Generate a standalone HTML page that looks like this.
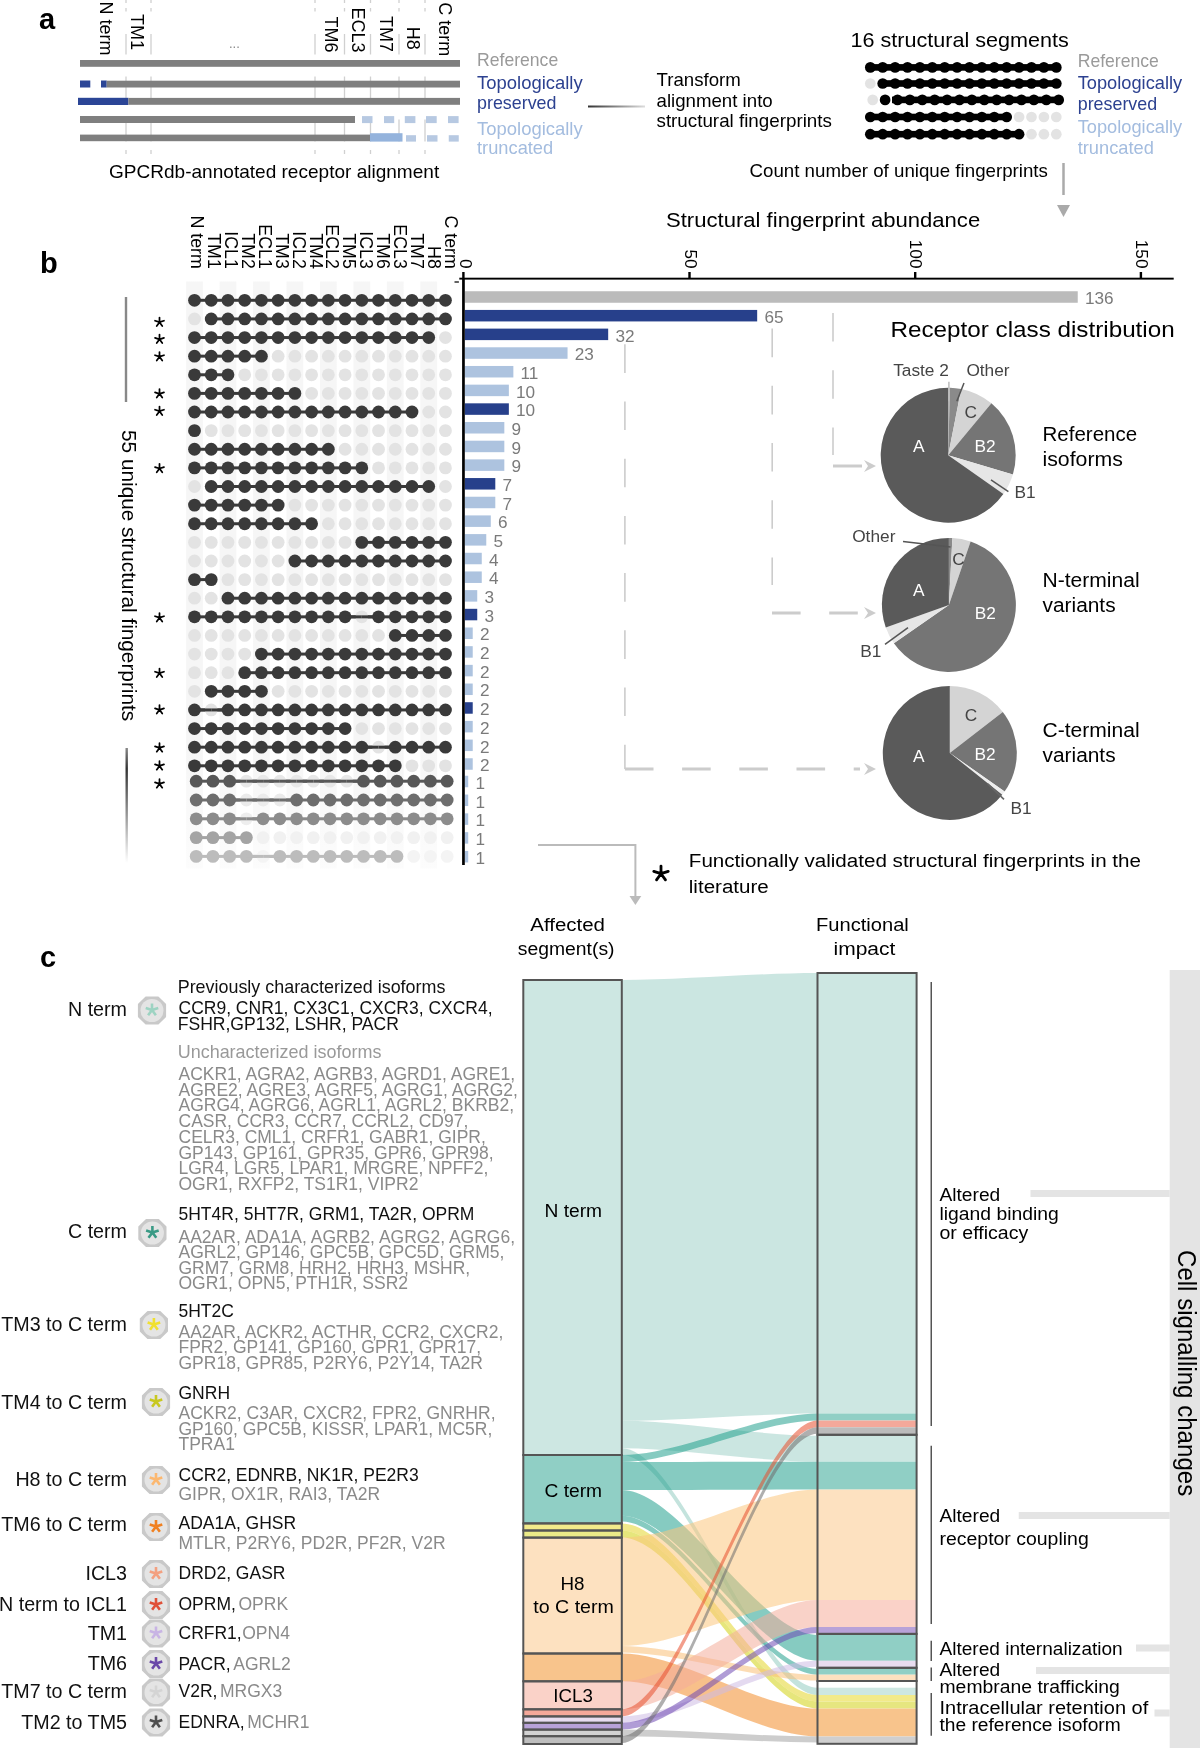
<!DOCTYPE html>
<html><head><meta charset="utf-8"><style>
html,body{margin:0;padding:0;background:#fff;}
body{width:1200px;height:1748px;overflow:hidden;}
svg{display:block;font-family:"Liberation Sans",sans-serif;will-change:transform;}
</style></head><body>
<svg width="1200" height="1748" viewBox="0 0 1200 1748">
<text x="39.00" y="29.00" font-size="29" fill="#000" font-weight="bold">a</text>
<line x1="126.00" y1="0.00" x2="126.00" y2="3.00" stroke="#d0d0d0" stroke-width="1.3"/>
<line x1="126.00" y1="8.00" x2="126.00" y2="11.50" stroke="#d0d0d0" stroke-width="1.3"/>
<line x1="126.00" y1="34.00" x2="126.00" y2="54.50" stroke="#d0d0d0" stroke-width="1.3"/>
<line x1="126.00" y1="76.50" x2="126.00" y2="98.00" stroke="#d0d0d0" stroke-width="1.3"/>
<line x1="126.00" y1="119.50" x2="126.00" y2="141.50" stroke="#d0d0d0" stroke-width="1.3"/>
<line x1="126.00" y1="150.00" x2="126.00" y2="154.00" stroke="#d0d0d0" stroke-width="1.3"/>
<line x1="151.00" y1="0.00" x2="151.00" y2="3.00" stroke="#d0d0d0" stroke-width="1.3"/>
<line x1="151.00" y1="8.00" x2="151.00" y2="11.50" stroke="#d0d0d0" stroke-width="1.3"/>
<line x1="151.00" y1="34.00" x2="151.00" y2="54.50" stroke="#d0d0d0" stroke-width="1.3"/>
<line x1="151.00" y1="76.50" x2="151.00" y2="98.00" stroke="#d0d0d0" stroke-width="1.3"/>
<line x1="151.00" y1="119.50" x2="151.00" y2="141.50" stroke="#d0d0d0" stroke-width="1.3"/>
<line x1="151.00" y1="150.00" x2="151.00" y2="154.00" stroke="#d0d0d0" stroke-width="1.3"/>
<line x1="315.00" y1="0.00" x2="315.00" y2="3.00" stroke="#d0d0d0" stroke-width="1.3"/>
<line x1="315.00" y1="8.00" x2="315.00" y2="11.50" stroke="#d0d0d0" stroke-width="1.3"/>
<line x1="315.00" y1="34.00" x2="315.00" y2="54.50" stroke="#d0d0d0" stroke-width="1.3"/>
<line x1="315.00" y1="76.50" x2="315.00" y2="98.00" stroke="#d0d0d0" stroke-width="1.3"/>
<line x1="315.00" y1="119.50" x2="315.00" y2="141.50" stroke="#d0d0d0" stroke-width="1.3"/>
<line x1="315.00" y1="150.00" x2="315.00" y2="154.00" stroke="#d0d0d0" stroke-width="1.3"/>
<line x1="344.50" y1="0.00" x2="344.50" y2="3.00" stroke="#d0d0d0" stroke-width="1.3"/>
<line x1="344.50" y1="8.00" x2="344.50" y2="11.50" stroke="#d0d0d0" stroke-width="1.3"/>
<line x1="344.50" y1="34.00" x2="344.50" y2="54.50" stroke="#d0d0d0" stroke-width="1.3"/>
<line x1="344.50" y1="76.50" x2="344.50" y2="98.00" stroke="#d0d0d0" stroke-width="1.3"/>
<line x1="344.50" y1="119.50" x2="344.50" y2="141.50" stroke="#d0d0d0" stroke-width="1.3"/>
<line x1="344.50" y1="150.00" x2="344.50" y2="154.00" stroke="#d0d0d0" stroke-width="1.3"/>
<line x1="370.50" y1="0.00" x2="370.50" y2="3.00" stroke="#d0d0d0" stroke-width="1.3"/>
<line x1="370.50" y1="8.00" x2="370.50" y2="11.50" stroke="#d0d0d0" stroke-width="1.3"/>
<line x1="370.50" y1="34.00" x2="370.50" y2="54.50" stroke="#d0d0d0" stroke-width="1.3"/>
<line x1="370.50" y1="76.50" x2="370.50" y2="98.00" stroke="#d0d0d0" stroke-width="1.3"/>
<line x1="370.50" y1="119.50" x2="370.50" y2="141.50" stroke="#d0d0d0" stroke-width="1.3"/>
<line x1="370.50" y1="150.00" x2="370.50" y2="154.00" stroke="#d0d0d0" stroke-width="1.3"/>
<line x1="399.00" y1="0.00" x2="399.00" y2="3.00" stroke="#d0d0d0" stroke-width="1.3"/>
<line x1="399.00" y1="8.00" x2="399.00" y2="11.50" stroke="#d0d0d0" stroke-width="1.3"/>
<line x1="399.00" y1="34.00" x2="399.00" y2="54.50" stroke="#d0d0d0" stroke-width="1.3"/>
<line x1="399.00" y1="76.50" x2="399.00" y2="98.00" stroke="#d0d0d0" stroke-width="1.3"/>
<line x1="399.00" y1="119.50" x2="399.00" y2="141.50" stroke="#d0d0d0" stroke-width="1.3"/>
<line x1="399.00" y1="150.00" x2="399.00" y2="154.00" stroke="#d0d0d0" stroke-width="1.3"/>
<line x1="425.00" y1="0.00" x2="425.00" y2="3.00" stroke="#d0d0d0" stroke-width="1.3"/>
<line x1="425.00" y1="8.00" x2="425.00" y2="11.50" stroke="#d0d0d0" stroke-width="1.3"/>
<line x1="425.00" y1="34.00" x2="425.00" y2="54.50" stroke="#d0d0d0" stroke-width="1.3"/>
<line x1="425.00" y1="76.50" x2="425.00" y2="98.00" stroke="#d0d0d0" stroke-width="1.3"/>
<line x1="425.00" y1="119.50" x2="425.00" y2="141.50" stroke="#d0d0d0" stroke-width="1.3"/>
<line x1="425.00" y1="150.00" x2="425.00" y2="154.00" stroke="#d0d0d0" stroke-width="1.3"/>
<text transform="translate(100.00,55.50) rotate(90)" font-size="18" fill="#000" text-anchor="end">N term</text>
<text transform="translate(131.30,50.00) rotate(90)" font-size="18" fill="#000" text-anchor="end">TM1</text>
<text transform="translate(324.80,52.60) rotate(90)" font-size="18" fill="#000" text-anchor="end">TM6</text>
<text transform="translate(352.30,52.60) rotate(90)" font-size="18" fill="#000" text-anchor="end">ECL3</text>
<text transform="translate(379.50,52.00) rotate(90)" font-size="18" fill="#000" text-anchor="end">TM7</text>
<text transform="translate(407.30,49.80) rotate(90)" font-size="18" fill="#000" text-anchor="end">H8</text>
<text transform="translate(439.00,56.20) rotate(90)" font-size="18" fill="#000" text-anchor="end">C term</text>
<text x="229.00" y="48.00" font-size="13" fill="#888">...</text>
<rect x="80.00" y="60.00" width="380.00" height="6.80" fill="#7f7f7f"/>
<rect x="80.00" y="80.50" width="10.30" height="7.00" fill="#2b4596"/>
<rect x="101.00" y="80.50" width="5.70" height="7.00" fill="#2b4596"/>
<rect x="106.70" y="80.70" width="353.30" height="6.80" fill="#7f7f7f"/>
<rect x="78.00" y="97.80" width="50.40" height="7.20" fill="#2b4596"/>
<rect x="128.40" y="97.90" width="331.60" height="6.90" fill="#7f7f7f"/>
<rect x="80.00" y="116.00" width="275.00" height="7.00" fill="#7f7f7f"/>
<rect x="362.00" y="116.10" width="10.50" height="7.00" fill="#b7c9e2"/>
<rect x="384.00" y="116.10" width="10.20" height="7.00" fill="#b7c9e2"/>
<rect x="404.80" y="116.10" width="10.60" height="7.00" fill="#b7c9e2"/>
<rect x="426.00" y="116.10" width="10.70" height="7.00" fill="#b7c9e2"/>
<rect x="448.00" y="116.10" width="10.60" height="7.00" fill="#b7c9e2"/>
<rect x="80.00" y="134.60" width="290.00" height="6.60" fill="#7f7f7f"/>
<rect x="370.00" y="133.20" width="32.50" height="8.40" fill="#94b3dc"/>
<rect x="406.00" y="135.20" width="10.00" height="6.40" fill="#b7c9e2"/>
<rect x="427.00" y="135.20" width="10.50" height="6.40" fill="#b7c9e2"/>
<rect x="448.75" y="135.20" width="10.00" height="6.40" fill="#b7c9e2"/>
<text x="477.00" y="66.00" font-size="17.8" fill="#9a9a9a" textLength="81.2" lengthAdjust="spacingAndGlyphs">Reference</text>
<text x="477.00" y="88.75" font-size="17.8" fill="#2c4190" textLength="105.7" lengthAdjust="spacingAndGlyphs">Topologically</text>
<text x="477.00" y="108.75" font-size="17.8" fill="#2c4190" textLength="79.5" lengthAdjust="spacingAndGlyphs">preserved</text>
<text x="477.00" y="135.00" font-size="17.8" fill="#a3bcdf" textLength="105.7" lengthAdjust="spacingAndGlyphs">Topologically</text>
<text x="477.00" y="153.75" font-size="17.8" fill="#a3bcdf" textLength="76.2" lengthAdjust="spacingAndGlyphs">truncated</text>
<text x="109.00" y="178.30" font-size="17.8" fill="#000" textLength="330.2" lengthAdjust="spacingAndGlyphs">GPCRdb-annotated receptor alignment</text>
<defs><linearGradient id="gc" x1="0" x2="1" y1="0" y2="0"><stop offset="0" stop-color="#333"/><stop offset="1" stop-color="#ddd"/></linearGradient><linearGradient id="gv" x1="0" x2="0" y1="0" y2="1"><stop offset="0" stop-color="#888"/><stop offset="0.18" stop-color="#333"/><stop offset="1" stop-color="#fff"/></linearGradient><linearGradient id="gs" x1="0" x2="0" y1="0" y2="1"><stop offset="0" stop-color="#f6f6f6"/><stop offset="0.8" stop-color="#f6f6f6"/><stop offset="1" stop-color="#fcfcfc"/></linearGradient></defs>
<rect x="588.00" y="105.50" width="57.00" height="2.00" fill="url(#gc)"/>
<text x="656.50" y="85.70" font-size="18.5" fill="#000" textLength="84.3" lengthAdjust="spacingAndGlyphs">Transform</text>
<text x="656.50" y="107.30" font-size="18.5" fill="#000" textLength="116.2" lengthAdjust="spacingAndGlyphs">alignment into</text>
<text x="656.50" y="126.90" font-size="18.5" fill="#000" textLength="175.4" lengthAdjust="spacingAndGlyphs">structural fingerprints</text>
<text x="850.50" y="46.50" font-size="21" fill="#000" textLength="218.2" lengthAdjust="spacingAndGlyphs">16 structural segments</text>
<rect x="870.30" y="64.10" width="12.40" height="6.60" fill="#000"/>
<rect x="882.70" y="64.10" width="12.40" height="6.60" fill="#000"/>
<rect x="895.10" y="64.10" width="12.40" height="6.60" fill="#000"/>
<rect x="907.50" y="64.10" width="12.40" height="6.60" fill="#000"/>
<rect x="919.90" y="64.10" width="12.40" height="6.60" fill="#000"/>
<rect x="932.30" y="64.10" width="12.40" height="6.60" fill="#000"/>
<rect x="944.70" y="64.10" width="12.40" height="6.60" fill="#000"/>
<rect x="957.10" y="64.10" width="12.40" height="6.60" fill="#000"/>
<rect x="969.50" y="64.10" width="12.40" height="6.60" fill="#000"/>
<rect x="981.90" y="64.10" width="12.40" height="6.60" fill="#000"/>
<rect x="994.30" y="64.10" width="12.40" height="6.60" fill="#000"/>
<rect x="1006.70" y="64.10" width="12.40" height="6.60" fill="#000"/>
<rect x="1019.10" y="64.10" width="12.40" height="6.60" fill="#000"/>
<rect x="1031.50" y="64.10" width="12.40" height="6.60" fill="#000"/>
<rect x="1043.90" y="64.10" width="12.40" height="6.60" fill="#000"/>
<circle cx="870.30" cy="67.40" r="5.35" fill="#000"/>
<circle cx="882.70" cy="67.40" r="5.35" fill="#000"/>
<circle cx="895.10" cy="67.40" r="5.35" fill="#000"/>
<circle cx="907.50" cy="67.40" r="5.35" fill="#000"/>
<circle cx="919.90" cy="67.40" r="5.35" fill="#000"/>
<circle cx="932.30" cy="67.40" r="5.35" fill="#000"/>
<circle cx="944.70" cy="67.40" r="5.35" fill="#000"/>
<circle cx="957.10" cy="67.40" r="5.35" fill="#000"/>
<circle cx="969.50" cy="67.40" r="5.35" fill="#000"/>
<circle cx="981.90" cy="67.40" r="5.35" fill="#000"/>
<circle cx="994.30" cy="67.40" r="5.35" fill="#000"/>
<circle cx="1006.70" cy="67.40" r="5.35" fill="#000"/>
<circle cx="1019.10" cy="67.40" r="5.35" fill="#000"/>
<circle cx="1031.50" cy="67.40" r="5.35" fill="#000"/>
<circle cx="1043.90" cy="67.40" r="5.35" fill="#000"/>
<circle cx="1056.30" cy="67.40" r="5.35" fill="#000"/>
<rect x="882.70" y="80.20" width="12.40" height="6.60" fill="#000"/>
<rect x="895.10" y="80.20" width="12.40" height="6.60" fill="#000"/>
<rect x="907.50" y="80.20" width="12.40" height="6.60" fill="#000"/>
<rect x="919.90" y="80.20" width="12.40" height="6.60" fill="#000"/>
<rect x="932.30" y="80.20" width="12.40" height="6.60" fill="#000"/>
<rect x="944.70" y="80.20" width="12.40" height="6.60" fill="#000"/>
<rect x="957.10" y="80.20" width="12.40" height="6.60" fill="#000"/>
<rect x="969.50" y="80.20" width="12.40" height="6.60" fill="#000"/>
<rect x="981.90" y="80.20" width="12.40" height="6.60" fill="#000"/>
<rect x="994.30" y="80.20" width="12.40" height="6.60" fill="#000"/>
<rect x="1006.70" y="80.20" width="12.40" height="6.60" fill="#000"/>
<rect x="1019.10" y="80.20" width="12.40" height="6.60" fill="#000"/>
<rect x="1031.50" y="80.20" width="12.40" height="6.60" fill="#000"/>
<rect x="1043.90" y="80.20" width="12.40" height="6.60" fill="#000"/>
<circle cx="870.30" cy="83.50" r="5.35" fill="#e3e3e3"/>
<circle cx="882.70" cy="83.50" r="5.35" fill="#000"/>
<circle cx="895.10" cy="83.50" r="5.35" fill="#000"/>
<circle cx="907.50" cy="83.50" r="5.35" fill="#000"/>
<circle cx="919.90" cy="83.50" r="5.35" fill="#000"/>
<circle cx="932.30" cy="83.50" r="5.35" fill="#000"/>
<circle cx="944.70" cy="83.50" r="5.35" fill="#000"/>
<circle cx="957.10" cy="83.50" r="5.35" fill="#000"/>
<circle cx="969.50" cy="83.50" r="5.35" fill="#000"/>
<circle cx="981.90" cy="83.50" r="5.35" fill="#000"/>
<circle cx="994.30" cy="83.50" r="5.35" fill="#000"/>
<circle cx="1006.70" cy="83.50" r="5.35" fill="#000"/>
<circle cx="1019.10" cy="83.50" r="5.35" fill="#000"/>
<circle cx="1031.50" cy="83.50" r="5.35" fill="#000"/>
<circle cx="1043.90" cy="83.50" r="5.35" fill="#000"/>
<circle cx="1056.30" cy="83.50" r="5.35" fill="#000"/>
<rect x="897.50" y="96.60" width="12.40" height="6.60" fill="#000"/>
<rect x="909.90" y="96.60" width="12.40" height="6.60" fill="#000"/>
<rect x="922.30" y="96.60" width="12.40" height="6.60" fill="#000"/>
<rect x="934.70" y="96.60" width="12.40" height="6.60" fill="#000"/>
<rect x="947.10" y="96.60" width="12.40" height="6.60" fill="#000"/>
<rect x="959.50" y="96.60" width="12.40" height="6.60" fill="#000"/>
<rect x="971.90" y="96.60" width="12.40" height="6.60" fill="#000"/>
<rect x="984.30" y="96.60" width="12.40" height="6.60" fill="#000"/>
<rect x="996.70" y="96.60" width="12.40" height="6.60" fill="#000"/>
<rect x="1009.10" y="96.60" width="12.40" height="6.60" fill="#000"/>
<rect x="1021.50" y="96.60" width="12.40" height="6.60" fill="#000"/>
<rect x="1033.90" y="96.60" width="12.40" height="6.60" fill="#000"/>
<rect x="1046.30" y="96.60" width="12.40" height="6.60" fill="#000"/>
<rect x="892.00" y="96.60" width="5.50" height="6.60" fill="#000"/>
<circle cx="872.70" cy="99.90" r="5.35" fill="#e3e3e3"/>
<circle cx="885.10" cy="99.90" r="5.35" fill="#000"/>
<circle cx="897.50" cy="99.90" r="5.35" fill="#000"/>
<circle cx="909.90" cy="99.90" r="5.35" fill="#000"/>
<circle cx="922.30" cy="99.90" r="5.35" fill="#000"/>
<circle cx="934.70" cy="99.90" r="5.35" fill="#000"/>
<circle cx="947.10" cy="99.90" r="5.35" fill="#000"/>
<circle cx="959.50" cy="99.90" r="5.35" fill="#000"/>
<circle cx="971.90" cy="99.90" r="5.35" fill="#000"/>
<circle cx="984.30" cy="99.90" r="5.35" fill="#000"/>
<circle cx="996.70" cy="99.90" r="5.35" fill="#000"/>
<circle cx="1009.10" cy="99.90" r="5.35" fill="#000"/>
<circle cx="1021.50" cy="99.90" r="5.35" fill="#000"/>
<circle cx="1033.90" cy="99.90" r="5.35" fill="#000"/>
<circle cx="1046.30" cy="99.90" r="5.35" fill="#000"/>
<circle cx="1058.70" cy="99.90" r="5.35" fill="#000"/>
<rect x="870.30" y="113.70" width="12.40" height="6.60" fill="#000"/>
<rect x="882.70" y="113.70" width="12.40" height="6.60" fill="#000"/>
<rect x="895.10" y="113.70" width="12.40" height="6.60" fill="#000"/>
<rect x="907.50" y="113.70" width="12.40" height="6.60" fill="#000"/>
<rect x="919.90" y="113.70" width="12.40" height="6.60" fill="#000"/>
<rect x="932.30" y="113.70" width="12.40" height="6.60" fill="#000"/>
<rect x="944.70" y="113.70" width="12.40" height="6.60" fill="#000"/>
<rect x="957.10" y="113.70" width="12.40" height="6.60" fill="#000"/>
<rect x="969.50" y="113.70" width="12.40" height="6.60" fill="#000"/>
<rect x="981.90" y="113.70" width="12.40" height="6.60" fill="#000"/>
<rect x="994.30" y="113.70" width="12.40" height="6.60" fill="#000"/>
<circle cx="870.30" cy="117.00" r="5.35" fill="#000"/>
<circle cx="882.70" cy="117.00" r="5.35" fill="#000"/>
<circle cx="895.10" cy="117.00" r="5.35" fill="#000"/>
<circle cx="907.50" cy="117.00" r="5.35" fill="#000"/>
<circle cx="919.90" cy="117.00" r="5.35" fill="#000"/>
<circle cx="932.30" cy="117.00" r="5.35" fill="#000"/>
<circle cx="944.70" cy="117.00" r="5.35" fill="#000"/>
<circle cx="957.10" cy="117.00" r="5.35" fill="#000"/>
<circle cx="969.50" cy="117.00" r="5.35" fill="#000"/>
<circle cx="981.90" cy="117.00" r="5.35" fill="#000"/>
<circle cx="994.30" cy="117.00" r="5.35" fill="#000"/>
<circle cx="1006.70" cy="117.00" r="5.35" fill="#000"/>
<circle cx="1019.10" cy="117.00" r="5.35" fill="#e3e3e3"/>
<circle cx="1031.50" cy="117.00" r="5.35" fill="#e3e3e3"/>
<circle cx="1043.90" cy="117.00" r="5.35" fill="#e3e3e3"/>
<circle cx="1056.30" cy="117.00" r="5.35" fill="#e3e3e3"/>
<rect x="870.30" y="130.90" width="12.40" height="6.60" fill="#000"/>
<rect x="882.70" y="130.90" width="12.40" height="6.60" fill="#000"/>
<rect x="895.10" y="130.90" width="12.40" height="6.60" fill="#000"/>
<rect x="907.50" y="130.90" width="12.40" height="6.60" fill="#000"/>
<rect x="919.90" y="130.90" width="12.40" height="6.60" fill="#000"/>
<rect x="932.30" y="130.90" width="12.40" height="6.60" fill="#000"/>
<rect x="944.70" y="130.90" width="12.40" height="6.60" fill="#000"/>
<rect x="957.10" y="130.90" width="12.40" height="6.60" fill="#000"/>
<rect x="969.50" y="130.90" width="12.40" height="6.60" fill="#000"/>
<rect x="981.90" y="130.90" width="12.40" height="6.60" fill="#000"/>
<rect x="994.30" y="130.90" width="12.40" height="6.60" fill="#000"/>
<rect x="1006.70" y="130.90" width="12.40" height="6.60" fill="#000"/>
<circle cx="870.30" cy="134.20" r="5.35" fill="#000"/>
<circle cx="882.70" cy="134.20" r="5.35" fill="#000"/>
<circle cx="895.10" cy="134.20" r="5.35" fill="#000"/>
<circle cx="907.50" cy="134.20" r="5.35" fill="#000"/>
<circle cx="919.90" cy="134.20" r="5.35" fill="#000"/>
<circle cx="932.30" cy="134.20" r="5.35" fill="#000"/>
<circle cx="944.70" cy="134.20" r="5.35" fill="#000"/>
<circle cx="957.10" cy="134.20" r="5.35" fill="#000"/>
<circle cx="969.50" cy="134.20" r="5.35" fill="#000"/>
<circle cx="981.90" cy="134.20" r="5.35" fill="#000"/>
<circle cx="994.30" cy="134.20" r="5.35" fill="#000"/>
<circle cx="1006.70" cy="134.20" r="5.35" fill="#000"/>
<circle cx="1019.10" cy="134.20" r="5.35" fill="#000"/>
<circle cx="1031.50" cy="134.20" r="5.35" fill="#e3e3e3"/>
<circle cx="1043.90" cy="134.20" r="5.35" fill="#e3e3e3"/>
<circle cx="1056.30" cy="134.20" r="5.35" fill="#e3e3e3"/>
<text x="1077.70" y="67.20" font-size="17.8" fill="#9a9a9a" textLength="81.2" lengthAdjust="spacingAndGlyphs">Reference</text>
<text x="1077.70" y="88.90" font-size="17.8" fill="#2c4190" textLength="104.5" lengthAdjust="spacingAndGlyphs">Topologically</text>
<text x="1077.70" y="109.60" font-size="17.8" fill="#2c4190" textLength="79.5" lengthAdjust="spacingAndGlyphs">preserved</text>
<text x="1077.70" y="132.80" font-size="17.8" fill="#a3bcdf" textLength="104.5" lengthAdjust="spacingAndGlyphs">Topologically</text>
<text x="1077.70" y="153.50" font-size="17.8" fill="#a3bcdf" textLength="76.2" lengthAdjust="spacingAndGlyphs">truncated</text>
<text x="749.50" y="176.70" font-size="17.8" fill="#000" textLength="298.4" lengthAdjust="spacingAndGlyphs">Count number of unique fingerprints</text>
<line x1="1063.50" y1="163.00" x2="1063.50" y2="195.00" stroke="#aaa" stroke-width="2.5"/>
<path d="M1057,205 L1070,205 L1063.5,217 Z" fill="#aaa"/>
<text x="40.00" y="273.00" font-size="29" fill="#000" font-weight="bold">b</text>
<text transform="translate(191.20,268.80) rotate(90)" font-size="17.8" fill="#000" text-anchor="end">N term</text>
<text transform="translate(208.10,268.80) rotate(90)" font-size="17.8" fill="#000" text-anchor="end">TM1</text>
<text transform="translate(225.00,268.80) rotate(90)" font-size="17.8" fill="#000" text-anchor="end">ICL1</text>
<text transform="translate(241.90,268.80) rotate(90)" font-size="17.8" fill="#000" text-anchor="end">TM2</text>
<text transform="translate(258.80,268.80) rotate(90)" font-size="17.8" fill="#000" text-anchor="end">ECL1</text>
<text transform="translate(275.70,268.80) rotate(90)" font-size="17.8" fill="#000" text-anchor="end">TM3</text>
<text transform="translate(292.60,268.80) rotate(90)" font-size="17.8" fill="#000" text-anchor="end">ICL2</text>
<text transform="translate(309.50,268.80) rotate(90)" font-size="17.8" fill="#000" text-anchor="end">TM4</text>
<text transform="translate(326.40,268.80) rotate(90)" font-size="17.8" fill="#000" text-anchor="end">ECL2</text>
<text transform="translate(343.30,268.80) rotate(90)" font-size="17.8" fill="#000" text-anchor="end">TM5</text>
<text transform="translate(360.20,268.80) rotate(90)" font-size="17.8" fill="#000" text-anchor="end">ICL3</text>
<text transform="translate(377.10,268.80) rotate(90)" font-size="17.8" fill="#000" text-anchor="end">TM6</text>
<text transform="translate(394.00,268.80) rotate(90)" font-size="17.8" fill="#000" text-anchor="end">ECL3</text>
<text transform="translate(410.90,268.80) rotate(90)" font-size="17.8" fill="#000" text-anchor="end">TM7</text>
<text transform="translate(427.80,268.80) rotate(90)" font-size="17.8" fill="#000" text-anchor="end">H8</text>
<text transform="translate(444.70,268.80) rotate(90)" font-size="17.8" fill="#000" text-anchor="end">C term</text>
<rect x="186.14" y="281.50" width="16.73" height="587.00" fill="url(#gs)"/>
<rect x="219.60" y="281.50" width="16.73" height="587.00" fill="url(#gs)"/>
<rect x="253.06" y="281.50" width="16.73" height="587.00" fill="url(#gs)"/>
<rect x="286.52" y="281.50" width="16.73" height="587.00" fill="url(#gs)"/>
<rect x="319.98" y="281.50" width="16.73" height="587.00" fill="url(#gs)"/>
<rect x="353.44" y="281.50" width="16.73" height="587.00" fill="url(#gs)"/>
<rect x="386.90" y="281.50" width="16.73" height="587.00" fill="url(#gs)"/>
<rect x="420.36" y="281.50" width="16.73" height="587.00" fill="url(#gs)"/>
<line x1="194.50" y1="300.30" x2="211.23" y2="300.30" stroke="#3a3a3a" stroke-width="3"/>
<line x1="211.23" y1="300.30" x2="227.96" y2="300.30" stroke="#3a3a3a" stroke-width="3"/>
<line x1="227.96" y1="300.30" x2="244.69" y2="300.30" stroke="#3a3a3a" stroke-width="3"/>
<line x1="244.69" y1="300.30" x2="261.42" y2="300.30" stroke="#3a3a3a" stroke-width="3"/>
<line x1="261.42" y1="300.30" x2="278.15" y2="300.30" stroke="#3a3a3a" stroke-width="3"/>
<line x1="278.15" y1="300.30" x2="294.88" y2="300.30" stroke="#3a3a3a" stroke-width="3"/>
<line x1="294.88" y1="300.30" x2="311.61" y2="300.30" stroke="#3a3a3a" stroke-width="3"/>
<line x1="311.61" y1="300.30" x2="328.34" y2="300.30" stroke="#3a3a3a" stroke-width="3"/>
<line x1="328.34" y1="300.30" x2="345.07" y2="300.30" stroke="#3a3a3a" stroke-width="3"/>
<line x1="345.07" y1="300.30" x2="361.80" y2="300.30" stroke="#3a3a3a" stroke-width="3"/>
<line x1="361.80" y1="300.30" x2="378.53" y2="300.30" stroke="#3a3a3a" stroke-width="3"/>
<line x1="378.53" y1="300.30" x2="395.26" y2="300.30" stroke="#3a3a3a" stroke-width="3"/>
<line x1="395.26" y1="300.30" x2="411.99" y2="300.30" stroke="#3a3a3a" stroke-width="3"/>
<line x1="411.99" y1="300.30" x2="428.72" y2="300.30" stroke="#3a3a3a" stroke-width="3"/>
<line x1="428.72" y1="300.30" x2="445.45" y2="300.30" stroke="#3a3a3a" stroke-width="3"/>
<circle cx="194.50" cy="300.30" r="6.4" fill="#3a3a3a"/>
<circle cx="211.23" cy="300.30" r="6.4" fill="#3a3a3a"/>
<circle cx="227.96" cy="300.30" r="6.4" fill="#3a3a3a"/>
<circle cx="244.69" cy="300.30" r="6.4" fill="#3a3a3a"/>
<circle cx="261.42" cy="300.30" r="6.4" fill="#3a3a3a"/>
<circle cx="278.15" cy="300.30" r="6.4" fill="#3a3a3a"/>
<circle cx="294.88" cy="300.30" r="6.4" fill="#3a3a3a"/>
<circle cx="311.61" cy="300.30" r="6.4" fill="#3a3a3a"/>
<circle cx="328.34" cy="300.30" r="6.4" fill="#3a3a3a"/>
<circle cx="345.07" cy="300.30" r="6.4" fill="#3a3a3a"/>
<circle cx="361.80" cy="300.30" r="6.4" fill="#3a3a3a"/>
<circle cx="378.53" cy="300.30" r="6.4" fill="#3a3a3a"/>
<circle cx="395.26" cy="300.30" r="6.4" fill="#3a3a3a"/>
<circle cx="411.99" cy="300.30" r="6.4" fill="#3a3a3a"/>
<circle cx="428.72" cy="300.30" r="6.4" fill="#3a3a3a"/>
<circle cx="445.45" cy="300.30" r="6.4" fill="#3a3a3a"/>
<rect x="464.80" y="291.25" width="612.94" height="11.50" fill="#bbbbbb"/>
<text x="1084.94" y="304.20" font-size="17.2" fill="#7a7a7a">136</text>
<line x1="211.23" y1="318.92" x2="227.96" y2="318.92" stroke="#3a3a3a" stroke-width="3"/>
<line x1="227.96" y1="318.92" x2="244.69" y2="318.92" stroke="#3a3a3a" stroke-width="3"/>
<line x1="244.69" y1="318.92" x2="261.42" y2="318.92" stroke="#3a3a3a" stroke-width="3"/>
<line x1="261.42" y1="318.92" x2="278.15" y2="318.92" stroke="#3a3a3a" stroke-width="3"/>
<line x1="278.15" y1="318.92" x2="294.88" y2="318.92" stroke="#3a3a3a" stroke-width="3"/>
<line x1="294.88" y1="318.92" x2="311.61" y2="318.92" stroke="#3a3a3a" stroke-width="3"/>
<line x1="311.61" y1="318.92" x2="328.34" y2="318.92" stroke="#3a3a3a" stroke-width="3"/>
<line x1="328.34" y1="318.92" x2="345.07" y2="318.92" stroke="#3a3a3a" stroke-width="3"/>
<line x1="345.07" y1="318.92" x2="361.80" y2="318.92" stroke="#3a3a3a" stroke-width="3"/>
<line x1="361.80" y1="318.92" x2="378.53" y2="318.92" stroke="#3a3a3a" stroke-width="3"/>
<line x1="378.53" y1="318.92" x2="395.26" y2="318.92" stroke="#3a3a3a" stroke-width="3"/>
<line x1="395.26" y1="318.92" x2="411.99" y2="318.92" stroke="#3a3a3a" stroke-width="3"/>
<line x1="411.99" y1="318.92" x2="428.72" y2="318.92" stroke="#3a3a3a" stroke-width="3"/>
<line x1="428.72" y1="318.92" x2="445.45" y2="318.92" stroke="#3a3a3a" stroke-width="3"/>
<circle cx="194.50" cy="318.92" r="6.4" fill="#e3e3e3"/>
<circle cx="211.23" cy="318.92" r="6.4" fill="#3a3a3a"/>
<circle cx="227.96" cy="318.92" r="6.4" fill="#3a3a3a"/>
<circle cx="244.69" cy="318.92" r="6.4" fill="#3a3a3a"/>
<circle cx="261.42" cy="318.92" r="6.4" fill="#3a3a3a"/>
<circle cx="278.15" cy="318.92" r="6.4" fill="#3a3a3a"/>
<circle cx="294.88" cy="318.92" r="6.4" fill="#3a3a3a"/>
<circle cx="311.61" cy="318.92" r="6.4" fill="#3a3a3a"/>
<circle cx="328.34" cy="318.92" r="6.4" fill="#3a3a3a"/>
<circle cx="345.07" cy="318.92" r="6.4" fill="#3a3a3a"/>
<circle cx="361.80" cy="318.92" r="6.4" fill="#3a3a3a"/>
<circle cx="378.53" cy="318.92" r="6.4" fill="#3a3a3a"/>
<circle cx="395.26" cy="318.92" r="6.4" fill="#3a3a3a"/>
<circle cx="411.99" cy="318.92" r="6.4" fill="#3a3a3a"/>
<circle cx="428.72" cy="318.92" r="6.4" fill="#3a3a3a"/>
<circle cx="445.45" cy="318.92" r="6.4" fill="#3a3a3a"/>
<rect x="464.80" y="309.93" width="292.37" height="11.50" fill="#27408b"/>
<text x="764.38" y="322.88" font-size="17.2" fill="#7a7a7a">65</text>
<line x1="194.50" y1="337.54" x2="211.23" y2="337.54" stroke="#3a3a3a" stroke-width="3"/>
<line x1="211.23" y1="337.54" x2="227.96" y2="337.54" stroke="#3a3a3a" stroke-width="3"/>
<line x1="227.96" y1="337.54" x2="244.69" y2="337.54" stroke="#3a3a3a" stroke-width="3"/>
<line x1="244.69" y1="337.54" x2="261.42" y2="337.54" stroke="#3a3a3a" stroke-width="3"/>
<line x1="261.42" y1="337.54" x2="278.15" y2="337.54" stroke="#3a3a3a" stroke-width="3"/>
<line x1="278.15" y1="337.54" x2="294.88" y2="337.54" stroke="#3a3a3a" stroke-width="3"/>
<line x1="294.88" y1="337.54" x2="311.61" y2="337.54" stroke="#3a3a3a" stroke-width="3"/>
<line x1="311.61" y1="337.54" x2="328.34" y2="337.54" stroke="#3a3a3a" stroke-width="3"/>
<line x1="328.34" y1="337.54" x2="345.07" y2="337.54" stroke="#3a3a3a" stroke-width="3"/>
<line x1="345.07" y1="337.54" x2="361.80" y2="337.54" stroke="#3a3a3a" stroke-width="3"/>
<line x1="361.80" y1="337.54" x2="378.53" y2="337.54" stroke="#3a3a3a" stroke-width="3"/>
<line x1="378.53" y1="337.54" x2="395.26" y2="337.54" stroke="#3a3a3a" stroke-width="3"/>
<line x1="395.26" y1="337.54" x2="411.99" y2="337.54" stroke="#3a3a3a" stroke-width="3"/>
<line x1="411.99" y1="337.54" x2="428.72" y2="337.54" stroke="#3a3a3a" stroke-width="3"/>
<circle cx="194.50" cy="337.54" r="6.4" fill="#3a3a3a"/>
<circle cx="211.23" cy="337.54" r="6.4" fill="#3a3a3a"/>
<circle cx="227.96" cy="337.54" r="6.4" fill="#3a3a3a"/>
<circle cx="244.69" cy="337.54" r="6.4" fill="#3a3a3a"/>
<circle cx="261.42" cy="337.54" r="6.4" fill="#3a3a3a"/>
<circle cx="278.15" cy="337.54" r="6.4" fill="#3a3a3a"/>
<circle cx="294.88" cy="337.54" r="6.4" fill="#3a3a3a"/>
<circle cx="311.61" cy="337.54" r="6.4" fill="#3a3a3a"/>
<circle cx="328.34" cy="337.54" r="6.4" fill="#3a3a3a"/>
<circle cx="345.07" cy="337.54" r="6.4" fill="#3a3a3a"/>
<circle cx="361.80" cy="337.54" r="6.4" fill="#3a3a3a"/>
<circle cx="378.53" cy="337.54" r="6.4" fill="#3a3a3a"/>
<circle cx="395.26" cy="337.54" r="6.4" fill="#3a3a3a"/>
<circle cx="411.99" cy="337.54" r="6.4" fill="#3a3a3a"/>
<circle cx="428.72" cy="337.54" r="6.4" fill="#3a3a3a"/>
<circle cx="445.45" cy="337.54" r="6.4" fill="#e3e3e3"/>
<rect x="464.80" y="328.61" width="143.38" height="11.50" fill="#27408b"/>
<text x="615.38" y="341.56" font-size="17.2" fill="#7a7a7a">32</text>
<line x1="194.50" y1="356.16" x2="211.23" y2="356.16" stroke="#3a3a3a" stroke-width="3"/>
<line x1="211.23" y1="356.16" x2="227.96" y2="356.16" stroke="#3a3a3a" stroke-width="3"/>
<line x1="227.96" y1="356.16" x2="244.69" y2="356.16" stroke="#3a3a3a" stroke-width="3"/>
<line x1="244.69" y1="356.16" x2="261.42" y2="356.16" stroke="#3a3a3a" stroke-width="3"/>
<circle cx="194.50" cy="356.16" r="6.4" fill="#3a3a3a"/>
<circle cx="211.23" cy="356.16" r="6.4" fill="#3a3a3a"/>
<circle cx="227.96" cy="356.16" r="6.4" fill="#3a3a3a"/>
<circle cx="244.69" cy="356.16" r="6.4" fill="#3a3a3a"/>
<circle cx="261.42" cy="356.16" r="6.4" fill="#3a3a3a"/>
<circle cx="278.15" cy="356.16" r="6.4" fill="#e3e3e3"/>
<circle cx="294.88" cy="356.16" r="6.4" fill="#e3e3e3"/>
<circle cx="311.61" cy="356.16" r="6.4" fill="#e3e3e3"/>
<circle cx="328.34" cy="356.16" r="6.4" fill="#e3e3e3"/>
<circle cx="345.07" cy="356.16" r="6.4" fill="#e3e3e3"/>
<circle cx="361.80" cy="356.16" r="6.4" fill="#e3e3e3"/>
<circle cx="378.53" cy="356.16" r="6.4" fill="#e3e3e3"/>
<circle cx="395.26" cy="356.16" r="6.4" fill="#e3e3e3"/>
<circle cx="411.99" cy="356.16" r="6.4" fill="#e3e3e3"/>
<circle cx="428.72" cy="356.16" r="6.4" fill="#e3e3e3"/>
<circle cx="445.45" cy="356.16" r="6.4" fill="#e3e3e3"/>
<rect x="464.80" y="347.29" width="102.75" height="11.50" fill="#adc3df"/>
<text x="574.75" y="360.24" font-size="17.2" fill="#7a7a7a">23</text>
<line x1="194.50" y1="374.78" x2="211.23" y2="374.78" stroke="#3a3a3a" stroke-width="3"/>
<line x1="211.23" y1="374.78" x2="227.96" y2="374.78" stroke="#3a3a3a" stroke-width="3"/>
<circle cx="194.50" cy="374.78" r="6.4" fill="#3a3a3a"/>
<circle cx="211.23" cy="374.78" r="6.4" fill="#3a3a3a"/>
<circle cx="227.96" cy="374.78" r="6.4" fill="#3a3a3a"/>
<circle cx="244.69" cy="374.78" r="6.4" fill="#e3e3e3"/>
<circle cx="261.42" cy="374.78" r="6.4" fill="#e3e3e3"/>
<circle cx="278.15" cy="374.78" r="6.4" fill="#e3e3e3"/>
<circle cx="294.88" cy="374.78" r="6.4" fill="#e3e3e3"/>
<circle cx="311.61" cy="374.78" r="6.4" fill="#e3e3e3"/>
<circle cx="328.34" cy="374.78" r="6.4" fill="#e3e3e3"/>
<circle cx="345.07" cy="374.78" r="6.4" fill="#e3e3e3"/>
<circle cx="361.80" cy="374.78" r="6.4" fill="#e3e3e3"/>
<circle cx="378.53" cy="374.78" r="6.4" fill="#e3e3e3"/>
<circle cx="395.26" cy="374.78" r="6.4" fill="#e3e3e3"/>
<circle cx="411.99" cy="374.78" r="6.4" fill="#e3e3e3"/>
<circle cx="428.72" cy="374.78" r="6.4" fill="#e3e3e3"/>
<circle cx="445.45" cy="374.78" r="6.4" fill="#e3e3e3"/>
<rect x="464.80" y="365.97" width="48.56" height="11.50" fill="#adc3df"/>
<text x="520.57" y="378.92" font-size="17.2" fill="#7a7a7a">11</text>
<line x1="194.50" y1="393.40" x2="211.23" y2="393.40" stroke="#3a3a3a" stroke-width="3"/>
<line x1="211.23" y1="393.40" x2="227.96" y2="393.40" stroke="#3a3a3a" stroke-width="3"/>
<line x1="227.96" y1="393.40" x2="244.69" y2="393.40" stroke="#3a3a3a" stroke-width="3"/>
<line x1="244.69" y1="393.40" x2="261.42" y2="393.40" stroke="#3a3a3a" stroke-width="3"/>
<line x1="261.42" y1="393.40" x2="278.15" y2="393.40" stroke="#3a3a3a" stroke-width="3"/>
<line x1="278.15" y1="393.40" x2="294.88" y2="393.40" stroke="#3a3a3a" stroke-width="3"/>
<circle cx="194.50" cy="393.40" r="6.4" fill="#3a3a3a"/>
<circle cx="211.23" cy="393.40" r="6.4" fill="#3a3a3a"/>
<circle cx="227.96" cy="393.40" r="6.4" fill="#3a3a3a"/>
<circle cx="244.69" cy="393.40" r="6.4" fill="#3a3a3a"/>
<circle cx="261.42" cy="393.40" r="6.4" fill="#3a3a3a"/>
<circle cx="278.15" cy="393.40" r="6.4" fill="#3a3a3a"/>
<circle cx="294.88" cy="393.40" r="6.4" fill="#3a3a3a"/>
<circle cx="311.61" cy="393.40" r="6.4" fill="#e3e3e3"/>
<circle cx="328.34" cy="393.40" r="6.4" fill="#e3e3e3"/>
<circle cx="345.07" cy="393.40" r="6.4" fill="#e3e3e3"/>
<circle cx="361.80" cy="393.40" r="6.4" fill="#e3e3e3"/>
<circle cx="378.53" cy="393.40" r="6.4" fill="#e3e3e3"/>
<circle cx="395.26" cy="393.40" r="6.4" fill="#e3e3e3"/>
<circle cx="411.99" cy="393.40" r="6.4" fill="#e3e3e3"/>
<circle cx="428.72" cy="393.40" r="6.4" fill="#e3e3e3"/>
<circle cx="445.45" cy="393.40" r="6.4" fill="#e3e3e3"/>
<rect x="464.80" y="384.65" width="44.05" height="11.50" fill="#adc3df"/>
<text x="516.05" y="397.60" font-size="17.2" fill="#7a7a7a">10</text>
<line x1="194.50" y1="412.02" x2="211.23" y2="412.02" stroke="#3a3a3a" stroke-width="3"/>
<line x1="211.23" y1="412.02" x2="227.96" y2="412.02" stroke="#3a3a3a" stroke-width="3"/>
<line x1="227.96" y1="412.02" x2="244.69" y2="412.02" stroke="#3a3a3a" stroke-width="3"/>
<line x1="244.69" y1="412.02" x2="261.42" y2="412.02" stroke="#3a3a3a" stroke-width="3"/>
<line x1="261.42" y1="412.02" x2="278.15" y2="412.02" stroke="#3a3a3a" stroke-width="3"/>
<line x1="278.15" y1="412.02" x2="294.88" y2="412.02" stroke="#3a3a3a" stroke-width="3"/>
<line x1="294.88" y1="412.02" x2="311.61" y2="412.02" stroke="#3a3a3a" stroke-width="3"/>
<line x1="311.61" y1="412.02" x2="328.34" y2="412.02" stroke="#3a3a3a" stroke-width="3"/>
<line x1="328.34" y1="412.02" x2="345.07" y2="412.02" stroke="#3a3a3a" stroke-width="3"/>
<line x1="345.07" y1="412.02" x2="361.80" y2="412.02" stroke="#3a3a3a" stroke-width="3"/>
<line x1="361.80" y1="412.02" x2="378.53" y2="412.02" stroke="#3a3a3a" stroke-width="3"/>
<line x1="378.53" y1="412.02" x2="395.26" y2="412.02" stroke="#3a3a3a" stroke-width="3"/>
<line x1="395.26" y1="412.02" x2="411.99" y2="412.02" stroke="#3a3a3a" stroke-width="3"/>
<circle cx="194.50" cy="412.02" r="6.4" fill="#3a3a3a"/>
<circle cx="211.23" cy="412.02" r="6.4" fill="#3a3a3a"/>
<circle cx="227.96" cy="412.02" r="6.4" fill="#3a3a3a"/>
<circle cx="244.69" cy="412.02" r="6.4" fill="#3a3a3a"/>
<circle cx="261.42" cy="412.02" r="6.4" fill="#3a3a3a"/>
<circle cx="278.15" cy="412.02" r="6.4" fill="#3a3a3a"/>
<circle cx="294.88" cy="412.02" r="6.4" fill="#3a3a3a"/>
<circle cx="311.61" cy="412.02" r="6.4" fill="#3a3a3a"/>
<circle cx="328.34" cy="412.02" r="6.4" fill="#3a3a3a"/>
<circle cx="345.07" cy="412.02" r="6.4" fill="#3a3a3a"/>
<circle cx="361.80" cy="412.02" r="6.4" fill="#3a3a3a"/>
<circle cx="378.53" cy="412.02" r="6.4" fill="#3a3a3a"/>
<circle cx="395.26" cy="412.02" r="6.4" fill="#3a3a3a"/>
<circle cx="411.99" cy="412.02" r="6.4" fill="#3a3a3a"/>
<circle cx="428.72" cy="412.02" r="6.4" fill="#e3e3e3"/>
<circle cx="445.45" cy="412.02" r="6.4" fill="#e3e3e3"/>
<rect x="464.80" y="403.33" width="44.05" height="11.50" fill="#27408b"/>
<text x="516.05" y="416.28" font-size="17.2" fill="#7a7a7a">10</text>
<circle cx="194.50" cy="430.64" r="6.4" fill="#3a3a3a"/>
<circle cx="211.23" cy="430.64" r="6.4" fill="#e3e3e3"/>
<circle cx="227.96" cy="430.64" r="6.4" fill="#e3e3e3"/>
<circle cx="244.69" cy="430.64" r="6.4" fill="#e3e3e3"/>
<circle cx="261.42" cy="430.64" r="6.4" fill="#e3e3e3"/>
<circle cx="278.15" cy="430.64" r="6.4" fill="#e3e3e3"/>
<circle cx="294.88" cy="430.64" r="6.4" fill="#e3e3e3"/>
<circle cx="311.61" cy="430.64" r="6.4" fill="#e3e3e3"/>
<circle cx="328.34" cy="430.64" r="6.4" fill="#e3e3e3"/>
<circle cx="345.07" cy="430.64" r="6.4" fill="#e3e3e3"/>
<circle cx="361.80" cy="430.64" r="6.4" fill="#e3e3e3"/>
<circle cx="378.53" cy="430.64" r="6.4" fill="#e3e3e3"/>
<circle cx="395.26" cy="430.64" r="6.4" fill="#e3e3e3"/>
<circle cx="411.99" cy="430.64" r="6.4" fill="#e3e3e3"/>
<circle cx="428.72" cy="430.64" r="6.4" fill="#e3e3e3"/>
<circle cx="445.45" cy="430.64" r="6.4" fill="#e3e3e3"/>
<rect x="464.80" y="422.01" width="39.53" height="11.50" fill="#adc3df"/>
<text x="511.54" y="434.96" font-size="17.2" fill="#7a7a7a">9</text>
<line x1="194.50" y1="449.26" x2="211.23" y2="449.26" stroke="#3a3a3a" stroke-width="3"/>
<line x1="211.23" y1="449.26" x2="227.96" y2="449.26" stroke="#3a3a3a" stroke-width="3"/>
<line x1="227.96" y1="449.26" x2="244.69" y2="449.26" stroke="#3a3a3a" stroke-width="3"/>
<line x1="244.69" y1="449.26" x2="261.42" y2="449.26" stroke="#3a3a3a" stroke-width="3"/>
<line x1="261.42" y1="449.26" x2="278.15" y2="449.26" stroke="#3a3a3a" stroke-width="3"/>
<line x1="278.15" y1="449.26" x2="294.88" y2="449.26" stroke="#3a3a3a" stroke-width="3"/>
<line x1="294.88" y1="449.26" x2="311.61" y2="449.26" stroke="#3a3a3a" stroke-width="3"/>
<line x1="311.61" y1="449.26" x2="328.34" y2="449.26" stroke="#3a3a3a" stroke-width="3"/>
<circle cx="194.50" cy="449.26" r="6.4" fill="#3a3a3a"/>
<circle cx="211.23" cy="449.26" r="6.4" fill="#3a3a3a"/>
<circle cx="227.96" cy="449.26" r="6.4" fill="#3a3a3a"/>
<circle cx="244.69" cy="449.26" r="6.4" fill="#3a3a3a"/>
<circle cx="261.42" cy="449.26" r="6.4" fill="#3a3a3a"/>
<circle cx="278.15" cy="449.26" r="6.4" fill="#3a3a3a"/>
<circle cx="294.88" cy="449.26" r="6.4" fill="#3a3a3a"/>
<circle cx="311.61" cy="449.26" r="6.4" fill="#3a3a3a"/>
<circle cx="328.34" cy="449.26" r="6.4" fill="#3a3a3a"/>
<circle cx="345.07" cy="449.26" r="6.4" fill="#e3e3e3"/>
<circle cx="361.80" cy="449.26" r="6.4" fill="#e3e3e3"/>
<circle cx="378.53" cy="449.26" r="6.4" fill="#e3e3e3"/>
<circle cx="395.26" cy="449.26" r="6.4" fill="#e3e3e3"/>
<circle cx="411.99" cy="449.26" r="6.4" fill="#e3e3e3"/>
<circle cx="428.72" cy="449.26" r="6.4" fill="#e3e3e3"/>
<circle cx="445.45" cy="449.26" r="6.4" fill="#e3e3e3"/>
<rect x="464.80" y="440.69" width="39.53" height="11.50" fill="#adc3df"/>
<text x="511.54" y="453.64" font-size="17.2" fill="#7a7a7a">9</text>
<line x1="194.50" y1="467.88" x2="211.23" y2="467.88" stroke="#3a3a3a" stroke-width="3"/>
<line x1="211.23" y1="467.88" x2="227.96" y2="467.88" stroke="#3a3a3a" stroke-width="3"/>
<line x1="227.96" y1="467.88" x2="244.69" y2="467.88" stroke="#3a3a3a" stroke-width="3"/>
<line x1="244.69" y1="467.88" x2="261.42" y2="467.88" stroke="#3a3a3a" stroke-width="3"/>
<line x1="261.42" y1="467.88" x2="278.15" y2="467.88" stroke="#3a3a3a" stroke-width="3"/>
<line x1="278.15" y1="467.88" x2="294.88" y2="467.88" stroke="#3a3a3a" stroke-width="3"/>
<line x1="294.88" y1="467.88" x2="311.61" y2="467.88" stroke="#3a3a3a" stroke-width="3"/>
<line x1="311.61" y1="467.88" x2="328.34" y2="467.88" stroke="#3a3a3a" stroke-width="3"/>
<line x1="328.34" y1="467.88" x2="345.07" y2="467.88" stroke="#3a3a3a" stroke-width="3"/>
<line x1="345.07" y1="467.88" x2="361.80" y2="467.88" stroke="#3a3a3a" stroke-width="3"/>
<circle cx="194.50" cy="467.88" r="6.4" fill="#3a3a3a"/>
<circle cx="211.23" cy="467.88" r="6.4" fill="#3a3a3a"/>
<circle cx="227.96" cy="467.88" r="6.4" fill="#3a3a3a"/>
<circle cx="244.69" cy="467.88" r="6.4" fill="#3a3a3a"/>
<circle cx="261.42" cy="467.88" r="6.4" fill="#3a3a3a"/>
<circle cx="278.15" cy="467.88" r="6.4" fill="#3a3a3a"/>
<circle cx="294.88" cy="467.88" r="6.4" fill="#3a3a3a"/>
<circle cx="311.61" cy="467.88" r="6.4" fill="#3a3a3a"/>
<circle cx="328.34" cy="467.88" r="6.4" fill="#3a3a3a"/>
<circle cx="345.07" cy="467.88" r="6.4" fill="#3a3a3a"/>
<circle cx="361.80" cy="467.88" r="6.4" fill="#3a3a3a"/>
<circle cx="378.53" cy="467.88" r="6.4" fill="#e3e3e3"/>
<circle cx="395.26" cy="467.88" r="6.4" fill="#e3e3e3"/>
<circle cx="411.99" cy="467.88" r="6.4" fill="#e3e3e3"/>
<circle cx="428.72" cy="467.88" r="6.4" fill="#e3e3e3"/>
<circle cx="445.45" cy="467.88" r="6.4" fill="#e3e3e3"/>
<rect x="464.80" y="459.37" width="39.53" height="11.50" fill="#adc3df"/>
<text x="511.54" y="472.32" font-size="17.2" fill="#7a7a7a">9</text>
<line x1="211.23" y1="486.50" x2="227.96" y2="486.50" stroke="#3a3a3a" stroke-width="3"/>
<line x1="227.96" y1="486.50" x2="244.69" y2="486.50" stroke="#3a3a3a" stroke-width="3"/>
<line x1="244.69" y1="486.50" x2="261.42" y2="486.50" stroke="#3a3a3a" stroke-width="3"/>
<line x1="261.42" y1="486.50" x2="278.15" y2="486.50" stroke="#3a3a3a" stroke-width="3"/>
<line x1="278.15" y1="486.50" x2="294.88" y2="486.50" stroke="#3a3a3a" stroke-width="3"/>
<line x1="294.88" y1="486.50" x2="311.61" y2="486.50" stroke="#3a3a3a" stroke-width="3"/>
<line x1="311.61" y1="486.50" x2="328.34" y2="486.50" stroke="#3a3a3a" stroke-width="3"/>
<line x1="328.34" y1="486.50" x2="345.07" y2="486.50" stroke="#3a3a3a" stroke-width="3"/>
<line x1="345.07" y1="486.50" x2="361.80" y2="486.50" stroke="#3a3a3a" stroke-width="3"/>
<line x1="361.80" y1="486.50" x2="378.53" y2="486.50" stroke="#3a3a3a" stroke-width="3"/>
<line x1="378.53" y1="486.50" x2="395.26" y2="486.50" stroke="#3a3a3a" stroke-width="3"/>
<line x1="395.26" y1="486.50" x2="411.99" y2="486.50" stroke="#3a3a3a" stroke-width="3"/>
<line x1="411.99" y1="486.50" x2="428.72" y2="486.50" stroke="#3a3a3a" stroke-width="3"/>
<circle cx="194.50" cy="486.50" r="6.4" fill="#e3e3e3"/>
<circle cx="211.23" cy="486.50" r="6.4" fill="#3a3a3a"/>
<circle cx="227.96" cy="486.50" r="6.4" fill="#3a3a3a"/>
<circle cx="244.69" cy="486.50" r="6.4" fill="#3a3a3a"/>
<circle cx="261.42" cy="486.50" r="6.4" fill="#3a3a3a"/>
<circle cx="278.15" cy="486.50" r="6.4" fill="#3a3a3a"/>
<circle cx="294.88" cy="486.50" r="6.4" fill="#3a3a3a"/>
<circle cx="311.61" cy="486.50" r="6.4" fill="#3a3a3a"/>
<circle cx="328.34" cy="486.50" r="6.4" fill="#3a3a3a"/>
<circle cx="345.07" cy="486.50" r="6.4" fill="#3a3a3a"/>
<circle cx="361.80" cy="486.50" r="6.4" fill="#3a3a3a"/>
<circle cx="378.53" cy="486.50" r="6.4" fill="#3a3a3a"/>
<circle cx="395.26" cy="486.50" r="6.4" fill="#3a3a3a"/>
<circle cx="411.99" cy="486.50" r="6.4" fill="#3a3a3a"/>
<circle cx="428.72" cy="486.50" r="6.4" fill="#3a3a3a"/>
<circle cx="445.45" cy="486.50" r="6.4" fill="#e3e3e3"/>
<rect x="464.80" y="478.05" width="30.50" height="11.50" fill="#27408b"/>
<text x="502.50" y="491.00" font-size="17.2" fill="#7a7a7a">7</text>
<line x1="194.50" y1="505.12" x2="211.23" y2="505.12" stroke="#3a3a3a" stroke-width="3"/>
<line x1="211.23" y1="505.12" x2="227.96" y2="505.12" stroke="#3a3a3a" stroke-width="3"/>
<line x1="227.96" y1="505.12" x2="244.69" y2="505.12" stroke="#3a3a3a" stroke-width="3"/>
<line x1="244.69" y1="505.12" x2="261.42" y2="505.12" stroke="#3a3a3a" stroke-width="3"/>
<line x1="261.42" y1="505.12" x2="278.15" y2="505.12" stroke="#3a3a3a" stroke-width="3"/>
<circle cx="194.50" cy="505.12" r="6.4" fill="#3a3a3a"/>
<circle cx="211.23" cy="505.12" r="6.4" fill="#3a3a3a"/>
<circle cx="227.96" cy="505.12" r="6.4" fill="#3a3a3a"/>
<circle cx="244.69" cy="505.12" r="6.4" fill="#3a3a3a"/>
<circle cx="261.42" cy="505.12" r="6.4" fill="#3a3a3a"/>
<circle cx="278.15" cy="505.12" r="6.4" fill="#3a3a3a"/>
<circle cx="294.88" cy="505.12" r="6.4" fill="#e3e3e3"/>
<circle cx="311.61" cy="505.12" r="6.4" fill="#e3e3e3"/>
<circle cx="328.34" cy="505.12" r="6.4" fill="#e3e3e3"/>
<circle cx="345.07" cy="505.12" r="6.4" fill="#e3e3e3"/>
<circle cx="361.80" cy="505.12" r="6.4" fill="#e3e3e3"/>
<circle cx="378.53" cy="505.12" r="6.4" fill="#e3e3e3"/>
<circle cx="395.26" cy="505.12" r="6.4" fill="#e3e3e3"/>
<circle cx="411.99" cy="505.12" r="6.4" fill="#e3e3e3"/>
<circle cx="428.72" cy="505.12" r="6.4" fill="#e3e3e3"/>
<circle cx="445.45" cy="505.12" r="6.4" fill="#e3e3e3"/>
<rect x="464.80" y="496.73" width="30.50" height="11.50" fill="#adc3df"/>
<text x="502.50" y="509.68" font-size="17.2" fill="#7a7a7a">7</text>
<line x1="194.50" y1="523.74" x2="211.23" y2="523.74" stroke="#3a3a3a" stroke-width="3"/>
<line x1="211.23" y1="523.74" x2="227.96" y2="523.74" stroke="#3a3a3a" stroke-width="3"/>
<line x1="227.96" y1="523.74" x2="244.69" y2="523.74" stroke="#3a3a3a" stroke-width="3"/>
<line x1="244.69" y1="523.74" x2="261.42" y2="523.74" stroke="#3a3a3a" stroke-width="3"/>
<line x1="261.42" y1="523.74" x2="278.15" y2="523.74" stroke="#3a3a3a" stroke-width="3"/>
<line x1="278.15" y1="523.74" x2="294.88" y2="523.74" stroke="#3a3a3a" stroke-width="3"/>
<line x1="294.88" y1="523.74" x2="311.61" y2="523.74" stroke="#3a3a3a" stroke-width="3"/>
<circle cx="194.50" cy="523.74" r="6.4" fill="#3a3a3a"/>
<circle cx="211.23" cy="523.74" r="6.4" fill="#3a3a3a"/>
<circle cx="227.96" cy="523.74" r="6.4" fill="#3a3a3a"/>
<circle cx="244.69" cy="523.74" r="6.4" fill="#3a3a3a"/>
<circle cx="261.42" cy="523.74" r="6.4" fill="#3a3a3a"/>
<circle cx="278.15" cy="523.74" r="6.4" fill="#3a3a3a"/>
<circle cx="294.88" cy="523.74" r="6.4" fill="#3a3a3a"/>
<circle cx="311.61" cy="523.74" r="6.4" fill="#3a3a3a"/>
<circle cx="328.34" cy="523.74" r="6.4" fill="#e3e3e3"/>
<circle cx="345.07" cy="523.74" r="6.4" fill="#e3e3e3"/>
<circle cx="361.80" cy="523.74" r="6.4" fill="#e3e3e3"/>
<circle cx="378.53" cy="523.74" r="6.4" fill="#e3e3e3"/>
<circle cx="395.26" cy="523.74" r="6.4" fill="#e3e3e3"/>
<circle cx="411.99" cy="523.74" r="6.4" fill="#e3e3e3"/>
<circle cx="428.72" cy="523.74" r="6.4" fill="#e3e3e3"/>
<circle cx="445.45" cy="523.74" r="6.4" fill="#e3e3e3"/>
<rect x="464.80" y="515.41" width="25.99" height="11.50" fill="#adc3df"/>
<text x="497.99" y="528.36" font-size="17.2" fill="#7a7a7a">6</text>
<line x1="361.80" y1="542.36" x2="378.53" y2="542.36" stroke="#3a3a3a" stroke-width="3"/>
<line x1="378.53" y1="542.36" x2="395.26" y2="542.36" stroke="#3a3a3a" stroke-width="3"/>
<line x1="395.26" y1="542.36" x2="411.99" y2="542.36" stroke="#3a3a3a" stroke-width="3"/>
<line x1="411.99" y1="542.36" x2="428.72" y2="542.36" stroke="#3a3a3a" stroke-width="3"/>
<line x1="428.72" y1="542.36" x2="445.45" y2="542.36" stroke="#3a3a3a" stroke-width="3"/>
<circle cx="194.50" cy="542.36" r="6.4" fill="#e3e3e3"/>
<circle cx="211.23" cy="542.36" r="6.4" fill="#e3e3e3"/>
<circle cx="227.96" cy="542.36" r="6.4" fill="#e3e3e3"/>
<circle cx="244.69" cy="542.36" r="6.4" fill="#e3e3e3"/>
<circle cx="261.42" cy="542.36" r="6.4" fill="#e3e3e3"/>
<circle cx="278.15" cy="542.36" r="6.4" fill="#e3e3e3"/>
<circle cx="294.88" cy="542.36" r="6.4" fill="#e3e3e3"/>
<circle cx="311.61" cy="542.36" r="6.4" fill="#e3e3e3"/>
<circle cx="328.34" cy="542.36" r="6.4" fill="#e3e3e3"/>
<circle cx="345.07" cy="542.36" r="6.4" fill="#e3e3e3"/>
<circle cx="361.80" cy="542.36" r="6.4" fill="#3a3a3a"/>
<circle cx="378.53" cy="542.36" r="6.4" fill="#3a3a3a"/>
<circle cx="395.26" cy="542.36" r="6.4" fill="#3a3a3a"/>
<circle cx="411.99" cy="542.36" r="6.4" fill="#3a3a3a"/>
<circle cx="428.72" cy="542.36" r="6.4" fill="#3a3a3a"/>
<circle cx="445.45" cy="542.36" r="6.4" fill="#3a3a3a"/>
<rect x="464.80" y="534.09" width="21.47" height="11.50" fill="#adc3df"/>
<text x="493.48" y="547.04" font-size="17.2" fill="#7a7a7a">5</text>
<line x1="294.88" y1="560.98" x2="311.61" y2="560.98" stroke="#3a3a3a" stroke-width="3"/>
<line x1="311.61" y1="560.98" x2="328.34" y2="560.98" stroke="#3a3a3a" stroke-width="3"/>
<line x1="328.34" y1="560.98" x2="345.07" y2="560.98" stroke="#3a3a3a" stroke-width="3"/>
<line x1="345.07" y1="560.98" x2="361.80" y2="560.98" stroke="#3a3a3a" stroke-width="3"/>
<line x1="361.80" y1="560.98" x2="378.53" y2="560.98" stroke="#3a3a3a" stroke-width="3"/>
<line x1="378.53" y1="560.98" x2="395.26" y2="560.98" stroke="#3a3a3a" stroke-width="3"/>
<line x1="395.26" y1="560.98" x2="411.99" y2="560.98" stroke="#3a3a3a" stroke-width="3"/>
<line x1="411.99" y1="560.98" x2="428.72" y2="560.98" stroke="#3a3a3a" stroke-width="3"/>
<line x1="428.72" y1="560.98" x2="445.45" y2="560.98" stroke="#3a3a3a" stroke-width="3"/>
<circle cx="194.50" cy="560.98" r="6.4" fill="#e3e3e3"/>
<circle cx="211.23" cy="560.98" r="6.4" fill="#e3e3e3"/>
<circle cx="227.96" cy="560.98" r="6.4" fill="#e3e3e3"/>
<circle cx="244.69" cy="560.98" r="6.4" fill="#e3e3e3"/>
<circle cx="261.42" cy="560.98" r="6.4" fill="#e3e3e3"/>
<circle cx="278.15" cy="560.98" r="6.4" fill="#e3e3e3"/>
<circle cx="294.88" cy="560.98" r="6.4" fill="#3a3a3a"/>
<circle cx="311.61" cy="560.98" r="6.4" fill="#3a3a3a"/>
<circle cx="328.34" cy="560.98" r="6.4" fill="#3a3a3a"/>
<circle cx="345.07" cy="560.98" r="6.4" fill="#3a3a3a"/>
<circle cx="361.80" cy="560.98" r="6.4" fill="#3a3a3a"/>
<circle cx="378.53" cy="560.98" r="6.4" fill="#3a3a3a"/>
<circle cx="395.26" cy="560.98" r="6.4" fill="#3a3a3a"/>
<circle cx="411.99" cy="560.98" r="6.4" fill="#3a3a3a"/>
<circle cx="428.72" cy="560.98" r="6.4" fill="#3a3a3a"/>
<circle cx="445.45" cy="560.98" r="6.4" fill="#3a3a3a"/>
<rect x="464.80" y="552.77" width="16.96" height="11.50" fill="#adc3df"/>
<text x="488.96" y="565.72" font-size="17.2" fill="#7a7a7a">4</text>
<line x1="194.50" y1="579.60" x2="211.23" y2="579.60" stroke="#3a3a3a" stroke-width="3"/>
<circle cx="194.50" cy="579.60" r="6.4" fill="#3a3a3a"/>
<circle cx="211.23" cy="579.60" r="6.4" fill="#3a3a3a"/>
<circle cx="227.96" cy="579.60" r="6.4" fill="#e3e3e3"/>
<circle cx="244.69" cy="579.60" r="6.4" fill="#e3e3e3"/>
<circle cx="261.42" cy="579.60" r="6.4" fill="#e3e3e3"/>
<circle cx="278.15" cy="579.60" r="6.4" fill="#e3e3e3"/>
<circle cx="294.88" cy="579.60" r="6.4" fill="#e3e3e3"/>
<circle cx="311.61" cy="579.60" r="6.4" fill="#e3e3e3"/>
<circle cx="328.34" cy="579.60" r="6.4" fill="#e3e3e3"/>
<circle cx="345.07" cy="579.60" r="6.4" fill="#e3e3e3"/>
<circle cx="361.80" cy="579.60" r="6.4" fill="#e3e3e3"/>
<circle cx="378.53" cy="579.60" r="6.4" fill="#e3e3e3"/>
<circle cx="395.26" cy="579.60" r="6.4" fill="#e3e3e3"/>
<circle cx="411.99" cy="579.60" r="6.4" fill="#e3e3e3"/>
<circle cx="428.72" cy="579.60" r="6.4" fill="#e3e3e3"/>
<circle cx="445.45" cy="579.60" r="6.4" fill="#e3e3e3"/>
<rect x="464.80" y="571.45" width="16.96" height="11.50" fill="#adc3df"/>
<text x="488.96" y="584.40" font-size="17.2" fill="#7a7a7a">4</text>
<line x1="227.96" y1="598.22" x2="244.69" y2="598.22" stroke="#3a3a3a" stroke-width="3"/>
<line x1="244.69" y1="598.22" x2="261.42" y2="598.22" stroke="#3a3a3a" stroke-width="3"/>
<line x1="261.42" y1="598.22" x2="278.15" y2="598.22" stroke="#3a3a3a" stroke-width="3"/>
<line x1="278.15" y1="598.22" x2="294.88" y2="598.22" stroke="#3a3a3a" stroke-width="3"/>
<line x1="294.88" y1="598.22" x2="311.61" y2="598.22" stroke="#3a3a3a" stroke-width="3"/>
<line x1="311.61" y1="598.22" x2="328.34" y2="598.22" stroke="#3a3a3a" stroke-width="3"/>
<line x1="328.34" y1="598.22" x2="345.07" y2="598.22" stroke="#3a3a3a" stroke-width="3"/>
<line x1="345.07" y1="598.22" x2="361.80" y2="598.22" stroke="#3a3a3a" stroke-width="3"/>
<line x1="361.80" y1="598.22" x2="378.53" y2="598.22" stroke="#3a3a3a" stroke-width="3"/>
<line x1="378.53" y1="598.22" x2="395.26" y2="598.22" stroke="#3a3a3a" stroke-width="3"/>
<line x1="395.26" y1="598.22" x2="411.99" y2="598.22" stroke="#3a3a3a" stroke-width="3"/>
<line x1="411.99" y1="598.22" x2="428.72" y2="598.22" stroke="#3a3a3a" stroke-width="3"/>
<line x1="428.72" y1="598.22" x2="445.45" y2="598.22" stroke="#3a3a3a" stroke-width="3"/>
<circle cx="194.50" cy="598.22" r="6.4" fill="#e3e3e3"/>
<circle cx="211.23" cy="598.22" r="6.4" fill="#e3e3e3"/>
<circle cx="227.96" cy="598.22" r="6.4" fill="#3a3a3a"/>
<circle cx="244.69" cy="598.22" r="6.4" fill="#3a3a3a"/>
<circle cx="261.42" cy="598.22" r="6.4" fill="#3a3a3a"/>
<circle cx="278.15" cy="598.22" r="6.4" fill="#3a3a3a"/>
<circle cx="294.88" cy="598.22" r="6.4" fill="#3a3a3a"/>
<circle cx="311.61" cy="598.22" r="6.4" fill="#3a3a3a"/>
<circle cx="328.34" cy="598.22" r="6.4" fill="#3a3a3a"/>
<circle cx="345.07" cy="598.22" r="6.4" fill="#3a3a3a"/>
<circle cx="361.80" cy="598.22" r="6.4" fill="#3a3a3a"/>
<circle cx="378.53" cy="598.22" r="6.4" fill="#3a3a3a"/>
<circle cx="395.26" cy="598.22" r="6.4" fill="#3a3a3a"/>
<circle cx="411.99" cy="598.22" r="6.4" fill="#3a3a3a"/>
<circle cx="428.72" cy="598.22" r="6.4" fill="#3a3a3a"/>
<circle cx="445.45" cy="598.22" r="6.4" fill="#3a3a3a"/>
<rect x="464.80" y="590.13" width="12.44" height="11.50" fill="#adc3df"/>
<text x="484.44" y="603.08" font-size="17.2" fill="#7a7a7a">3</text>
<line x1="194.50" y1="616.84" x2="211.23" y2="616.84" stroke="#3a3a3a" stroke-width="3"/>
<line x1="211.23" y1="616.84" x2="227.96" y2="616.84" stroke="#3a3a3a" stroke-width="3"/>
<line x1="227.96" y1="616.84" x2="244.69" y2="616.84" stroke="#3a3a3a" stroke-width="3"/>
<line x1="244.69" y1="616.84" x2="261.42" y2="616.84" stroke="#3a3a3a" stroke-width="3"/>
<line x1="261.42" y1="616.84" x2="278.15" y2="616.84" stroke="#3a3a3a" stroke-width="3"/>
<line x1="278.15" y1="616.84" x2="294.88" y2="616.84" stroke="#3a3a3a" stroke-width="3"/>
<line x1="294.88" y1="616.84" x2="311.61" y2="616.84" stroke="#3a3a3a" stroke-width="3"/>
<line x1="311.61" y1="616.84" x2="328.34" y2="616.84" stroke="#3a3a3a" stroke-width="3"/>
<line x1="328.34" y1="616.84" x2="345.07" y2="616.84" stroke="#3a3a3a" stroke-width="3"/>
<line x1="345.07" y1="616.84" x2="361.80" y2="616.84" stroke="#3a3a3a" stroke-width="3"/>
<line x1="361.80" y1="616.84" x2="378.53" y2="616.84" stroke="#3a3a3a" stroke-width="3"/>
<line x1="378.53" y1="616.84" x2="395.26" y2="616.84" stroke="#3a3a3a" stroke-width="3"/>
<line x1="395.26" y1="616.84" x2="411.99" y2="616.84" stroke="#3a3a3a" stroke-width="3"/>
<line x1="411.99" y1="616.84" x2="428.72" y2="616.84" stroke="#3a3a3a" stroke-width="3"/>
<line x1="428.72" y1="616.84" x2="445.45" y2="616.84" stroke="#3a3a3a" stroke-width="3"/>
<circle cx="194.50" cy="616.84" r="6.4" fill="#3a3a3a"/>
<circle cx="211.23" cy="616.84" r="6.4" fill="#3a3a3a"/>
<circle cx="227.96" cy="616.84" r="6.4" fill="#3a3a3a"/>
<circle cx="244.69" cy="616.84" r="6.4" fill="#3a3a3a"/>
<circle cx="261.42" cy="616.84" r="6.4" fill="#3a3a3a"/>
<circle cx="278.15" cy="616.84" r="6.4" fill="#3a3a3a"/>
<circle cx="294.88" cy="616.84" r="6.4" fill="#3a3a3a"/>
<circle cx="311.61" cy="616.84" r="6.4" fill="#3a3a3a"/>
<circle cx="328.34" cy="616.84" r="6.4" fill="#3a3a3a"/>
<circle cx="345.07" cy="616.84" r="6.4" fill="#3a3a3a"/>
<circle cx="361.80" cy="616.84" r="6.4" fill="#e3e3e3"/>
<circle cx="378.53" cy="616.84" r="6.4" fill="#3a3a3a"/>
<circle cx="395.26" cy="616.84" r="6.4" fill="#3a3a3a"/>
<circle cx="411.99" cy="616.84" r="6.4" fill="#3a3a3a"/>
<circle cx="428.72" cy="616.84" r="6.4" fill="#3a3a3a"/>
<circle cx="445.45" cy="616.84" r="6.4" fill="#3a3a3a"/>
<line x1="345.07" y1="616.84" x2="361.80" y2="616.84" stroke="#3a3a3a" stroke-width="3"/>
<line x1="361.80" y1="616.84" x2="378.53" y2="616.84" stroke="#3a3a3a" stroke-width="3"/>
<rect x="464.80" y="608.81" width="12.44" height="11.50" fill="#27408b"/>
<text x="484.44" y="621.76" font-size="17.2" fill="#7a7a7a">3</text>
<line x1="395.26" y1="635.46" x2="411.99" y2="635.46" stroke="#3a3a3a" stroke-width="3"/>
<line x1="411.99" y1="635.46" x2="428.72" y2="635.46" stroke="#3a3a3a" stroke-width="3"/>
<line x1="428.72" y1="635.46" x2="445.45" y2="635.46" stroke="#3a3a3a" stroke-width="3"/>
<circle cx="194.50" cy="635.46" r="6.4" fill="#e3e3e3"/>
<circle cx="211.23" cy="635.46" r="6.4" fill="#e3e3e3"/>
<circle cx="227.96" cy="635.46" r="6.4" fill="#e3e3e3"/>
<circle cx="244.69" cy="635.46" r="6.4" fill="#e3e3e3"/>
<circle cx="261.42" cy="635.46" r="6.4" fill="#e3e3e3"/>
<circle cx="278.15" cy="635.46" r="6.4" fill="#e3e3e3"/>
<circle cx="294.88" cy="635.46" r="6.4" fill="#e3e3e3"/>
<circle cx="311.61" cy="635.46" r="6.4" fill="#e3e3e3"/>
<circle cx="328.34" cy="635.46" r="6.4" fill="#e3e3e3"/>
<circle cx="345.07" cy="635.46" r="6.4" fill="#e3e3e3"/>
<circle cx="361.80" cy="635.46" r="6.4" fill="#e3e3e3"/>
<circle cx="378.53" cy="635.46" r="6.4" fill="#e3e3e3"/>
<circle cx="395.26" cy="635.46" r="6.4" fill="#3a3a3a"/>
<circle cx="411.99" cy="635.46" r="6.4" fill="#3a3a3a"/>
<circle cx="428.72" cy="635.46" r="6.4" fill="#3a3a3a"/>
<circle cx="445.45" cy="635.46" r="6.4" fill="#3a3a3a"/>
<rect x="464.80" y="627.49" width="7.93" height="11.50" fill="#adc3df"/>
<text x="479.93" y="640.44" font-size="17.2" fill="#7a7a7a">2</text>
<line x1="261.42" y1="654.08" x2="278.15" y2="654.08" stroke="#3a3a3a" stroke-width="3"/>
<line x1="278.15" y1="654.08" x2="294.88" y2="654.08" stroke="#3a3a3a" stroke-width="3"/>
<line x1="294.88" y1="654.08" x2="311.61" y2="654.08" stroke="#3a3a3a" stroke-width="3"/>
<line x1="311.61" y1="654.08" x2="328.34" y2="654.08" stroke="#3a3a3a" stroke-width="3"/>
<line x1="328.34" y1="654.08" x2="345.07" y2="654.08" stroke="#3a3a3a" stroke-width="3"/>
<line x1="345.07" y1="654.08" x2="361.80" y2="654.08" stroke="#3a3a3a" stroke-width="3"/>
<line x1="361.80" y1="654.08" x2="378.53" y2="654.08" stroke="#3a3a3a" stroke-width="3"/>
<line x1="378.53" y1="654.08" x2="395.26" y2="654.08" stroke="#3a3a3a" stroke-width="3"/>
<line x1="395.26" y1="654.08" x2="411.99" y2="654.08" stroke="#3a3a3a" stroke-width="3"/>
<line x1="411.99" y1="654.08" x2="428.72" y2="654.08" stroke="#3a3a3a" stroke-width="3"/>
<line x1="428.72" y1="654.08" x2="445.45" y2="654.08" stroke="#3a3a3a" stroke-width="3"/>
<circle cx="194.50" cy="654.08" r="6.4" fill="#e3e3e3"/>
<circle cx="211.23" cy="654.08" r="6.4" fill="#e3e3e3"/>
<circle cx="227.96" cy="654.08" r="6.4" fill="#e3e3e3"/>
<circle cx="244.69" cy="654.08" r="6.4" fill="#e3e3e3"/>
<circle cx="261.42" cy="654.08" r="6.4" fill="#3a3a3a"/>
<circle cx="278.15" cy="654.08" r="6.4" fill="#3a3a3a"/>
<circle cx="294.88" cy="654.08" r="6.4" fill="#3a3a3a"/>
<circle cx="311.61" cy="654.08" r="6.4" fill="#3a3a3a"/>
<circle cx="328.34" cy="654.08" r="6.4" fill="#3a3a3a"/>
<circle cx="345.07" cy="654.08" r="6.4" fill="#3a3a3a"/>
<circle cx="361.80" cy="654.08" r="6.4" fill="#3a3a3a"/>
<circle cx="378.53" cy="654.08" r="6.4" fill="#3a3a3a"/>
<circle cx="395.26" cy="654.08" r="6.4" fill="#3a3a3a"/>
<circle cx="411.99" cy="654.08" r="6.4" fill="#3a3a3a"/>
<circle cx="428.72" cy="654.08" r="6.4" fill="#3a3a3a"/>
<circle cx="445.45" cy="654.08" r="6.4" fill="#3a3a3a"/>
<rect x="464.80" y="646.17" width="7.93" height="11.50" fill="#adc3df"/>
<text x="479.93" y="659.12" font-size="17.2" fill="#7a7a7a">2</text>
<line x1="244.69" y1="672.70" x2="261.42" y2="672.70" stroke="#3a3a3a" stroke-width="3"/>
<line x1="261.42" y1="672.70" x2="278.15" y2="672.70" stroke="#3a3a3a" stroke-width="3"/>
<line x1="278.15" y1="672.70" x2="294.88" y2="672.70" stroke="#3a3a3a" stroke-width="3"/>
<line x1="294.88" y1="672.70" x2="311.61" y2="672.70" stroke="#3a3a3a" stroke-width="3"/>
<line x1="311.61" y1="672.70" x2="328.34" y2="672.70" stroke="#3a3a3a" stroke-width="3"/>
<line x1="328.34" y1="672.70" x2="345.07" y2="672.70" stroke="#3a3a3a" stroke-width="3"/>
<line x1="345.07" y1="672.70" x2="361.80" y2="672.70" stroke="#3a3a3a" stroke-width="3"/>
<line x1="361.80" y1="672.70" x2="378.53" y2="672.70" stroke="#3a3a3a" stroke-width="3"/>
<line x1="378.53" y1="672.70" x2="395.26" y2="672.70" stroke="#3a3a3a" stroke-width="3"/>
<line x1="395.26" y1="672.70" x2="411.99" y2="672.70" stroke="#3a3a3a" stroke-width="3"/>
<line x1="411.99" y1="672.70" x2="428.72" y2="672.70" stroke="#3a3a3a" stroke-width="3"/>
<line x1="428.72" y1="672.70" x2="445.45" y2="672.70" stroke="#3a3a3a" stroke-width="3"/>
<circle cx="194.50" cy="672.70" r="6.4" fill="#e3e3e3"/>
<circle cx="211.23" cy="672.70" r="6.4" fill="#e3e3e3"/>
<circle cx="227.96" cy="672.70" r="6.4" fill="#e3e3e3"/>
<circle cx="244.69" cy="672.70" r="6.4" fill="#3a3a3a"/>
<circle cx="261.42" cy="672.70" r="6.4" fill="#3a3a3a"/>
<circle cx="278.15" cy="672.70" r="6.4" fill="#3a3a3a"/>
<circle cx="294.88" cy="672.70" r="6.4" fill="#3a3a3a"/>
<circle cx="311.61" cy="672.70" r="6.4" fill="#3a3a3a"/>
<circle cx="328.34" cy="672.70" r="6.4" fill="#3a3a3a"/>
<circle cx="345.07" cy="672.70" r="6.4" fill="#3a3a3a"/>
<circle cx="361.80" cy="672.70" r="6.4" fill="#3a3a3a"/>
<circle cx="378.53" cy="672.70" r="6.4" fill="#3a3a3a"/>
<circle cx="395.26" cy="672.70" r="6.4" fill="#3a3a3a"/>
<circle cx="411.99" cy="672.70" r="6.4" fill="#3a3a3a"/>
<circle cx="428.72" cy="672.70" r="6.4" fill="#3a3a3a"/>
<circle cx="445.45" cy="672.70" r="6.4" fill="#3a3a3a"/>
<rect x="464.80" y="664.85" width="7.93" height="11.50" fill="#adc3df"/>
<text x="479.93" y="677.80" font-size="17.2" fill="#7a7a7a">2</text>
<line x1="211.23" y1="691.32" x2="227.96" y2="691.32" stroke="#3a3a3a" stroke-width="3"/>
<line x1="227.96" y1="691.32" x2="244.69" y2="691.32" stroke="#3a3a3a" stroke-width="3"/>
<line x1="244.69" y1="691.32" x2="261.42" y2="691.32" stroke="#3a3a3a" stroke-width="3"/>
<circle cx="194.50" cy="691.32" r="6.4" fill="#e3e3e3"/>
<circle cx="211.23" cy="691.32" r="6.4" fill="#3a3a3a"/>
<circle cx="227.96" cy="691.32" r="6.4" fill="#3a3a3a"/>
<circle cx="244.69" cy="691.32" r="6.4" fill="#3a3a3a"/>
<circle cx="261.42" cy="691.32" r="6.4" fill="#3a3a3a"/>
<circle cx="278.15" cy="691.32" r="6.4" fill="#e3e3e3"/>
<circle cx="294.88" cy="691.32" r="6.4" fill="#e3e3e3"/>
<circle cx="311.61" cy="691.32" r="6.4" fill="#e3e3e3"/>
<circle cx="328.34" cy="691.32" r="6.4" fill="#e3e3e3"/>
<circle cx="345.07" cy="691.32" r="6.4" fill="#e3e3e3"/>
<circle cx="361.80" cy="691.32" r="6.4" fill="#e3e3e3"/>
<circle cx="378.53" cy="691.32" r="6.4" fill="#e3e3e3"/>
<circle cx="395.26" cy="691.32" r="6.4" fill="#e3e3e3"/>
<circle cx="411.99" cy="691.32" r="6.4" fill="#e3e3e3"/>
<circle cx="428.72" cy="691.32" r="6.4" fill="#e3e3e3"/>
<circle cx="445.45" cy="691.32" r="6.4" fill="#e3e3e3"/>
<rect x="464.80" y="683.53" width="7.93" height="11.50" fill="#adc3df"/>
<text x="479.93" y="696.48" font-size="17.2" fill="#7a7a7a">2</text>
<line x1="194.50" y1="709.94" x2="211.23" y2="709.94" stroke="#3a3a3a" stroke-width="3"/>
<line x1="211.23" y1="709.94" x2="227.96" y2="709.94" stroke="#3a3a3a" stroke-width="3"/>
<line x1="227.96" y1="709.94" x2="244.69" y2="709.94" stroke="#3a3a3a" stroke-width="3"/>
<line x1="244.69" y1="709.94" x2="261.42" y2="709.94" stroke="#3a3a3a" stroke-width="3"/>
<line x1="261.42" y1="709.94" x2="278.15" y2="709.94" stroke="#3a3a3a" stroke-width="3"/>
<line x1="278.15" y1="709.94" x2="294.88" y2="709.94" stroke="#3a3a3a" stroke-width="3"/>
<line x1="294.88" y1="709.94" x2="311.61" y2="709.94" stroke="#3a3a3a" stroke-width="3"/>
<line x1="311.61" y1="709.94" x2="328.34" y2="709.94" stroke="#3a3a3a" stroke-width="3"/>
<line x1="328.34" y1="709.94" x2="345.07" y2="709.94" stroke="#3a3a3a" stroke-width="3"/>
<line x1="345.07" y1="709.94" x2="361.80" y2="709.94" stroke="#3a3a3a" stroke-width="3"/>
<line x1="361.80" y1="709.94" x2="378.53" y2="709.94" stroke="#3a3a3a" stroke-width="3"/>
<line x1="378.53" y1="709.94" x2="395.26" y2="709.94" stroke="#3a3a3a" stroke-width="3"/>
<line x1="395.26" y1="709.94" x2="411.99" y2="709.94" stroke="#3a3a3a" stroke-width="3"/>
<line x1="411.99" y1="709.94" x2="428.72" y2="709.94" stroke="#3a3a3a" stroke-width="3"/>
<line x1="428.72" y1="709.94" x2="445.45" y2="709.94" stroke="#3a3a3a" stroke-width="3"/>
<circle cx="194.50" cy="709.94" r="6.4" fill="#3a3a3a"/>
<circle cx="211.23" cy="709.94" r="6.4" fill="#e3e3e3"/>
<circle cx="227.96" cy="709.94" r="6.4" fill="#3a3a3a"/>
<circle cx="244.69" cy="709.94" r="6.4" fill="#3a3a3a"/>
<circle cx="261.42" cy="709.94" r="6.4" fill="#3a3a3a"/>
<circle cx="278.15" cy="709.94" r="6.4" fill="#3a3a3a"/>
<circle cx="294.88" cy="709.94" r="6.4" fill="#3a3a3a"/>
<circle cx="311.61" cy="709.94" r="6.4" fill="#3a3a3a"/>
<circle cx="328.34" cy="709.94" r="6.4" fill="#3a3a3a"/>
<circle cx="345.07" cy="709.94" r="6.4" fill="#3a3a3a"/>
<circle cx="361.80" cy="709.94" r="6.4" fill="#3a3a3a"/>
<circle cx="378.53" cy="709.94" r="6.4" fill="#3a3a3a"/>
<circle cx="395.26" cy="709.94" r="6.4" fill="#3a3a3a"/>
<circle cx="411.99" cy="709.94" r="6.4" fill="#3a3a3a"/>
<circle cx="428.72" cy="709.94" r="6.4" fill="#3a3a3a"/>
<circle cx="445.45" cy="709.94" r="6.4" fill="#3a3a3a"/>
<line x1="194.50" y1="709.94" x2="211.23" y2="709.94" stroke="#3a3a3a" stroke-width="3"/>
<line x1="211.23" y1="709.94" x2="227.96" y2="709.94" stroke="#3a3a3a" stroke-width="3"/>
<rect x="464.80" y="702.21" width="7.93" height="11.50" fill="#27408b"/>
<text x="479.93" y="715.16" font-size="17.2" fill="#7a7a7a">2</text>
<line x1="194.50" y1="728.56" x2="211.23" y2="728.56" stroke="#3a3a3a" stroke-width="3"/>
<line x1="211.23" y1="728.56" x2="227.96" y2="728.56" stroke="#3a3a3a" stroke-width="3"/>
<line x1="227.96" y1="728.56" x2="244.69" y2="728.56" stroke="#3a3a3a" stroke-width="3"/>
<line x1="244.69" y1="728.56" x2="261.42" y2="728.56" stroke="#3a3a3a" stroke-width="3"/>
<line x1="261.42" y1="728.56" x2="278.15" y2="728.56" stroke="#3a3a3a" stroke-width="3"/>
<line x1="278.15" y1="728.56" x2="294.88" y2="728.56" stroke="#3a3a3a" stroke-width="3"/>
<line x1="294.88" y1="728.56" x2="311.61" y2="728.56" stroke="#3a3a3a" stroke-width="3"/>
<line x1="311.61" y1="728.56" x2="328.34" y2="728.56" stroke="#3a3a3a" stroke-width="3"/>
<line x1="328.34" y1="728.56" x2="345.07" y2="728.56" stroke="#3a3a3a" stroke-width="3"/>
<circle cx="194.50" cy="728.56" r="6.4" fill="#3a3a3a"/>
<circle cx="211.23" cy="728.56" r="6.4" fill="#3a3a3a"/>
<circle cx="227.96" cy="728.56" r="6.4" fill="#3a3a3a"/>
<circle cx="244.69" cy="728.56" r="6.4" fill="#3a3a3a"/>
<circle cx="261.42" cy="728.56" r="6.4" fill="#3a3a3a"/>
<circle cx="278.15" cy="728.56" r="6.4" fill="#3a3a3a"/>
<circle cx="294.88" cy="728.56" r="6.4" fill="#3a3a3a"/>
<circle cx="311.61" cy="728.56" r="6.4" fill="#3a3a3a"/>
<circle cx="328.34" cy="728.56" r="6.4" fill="#3a3a3a"/>
<circle cx="345.07" cy="728.56" r="6.4" fill="#3a3a3a"/>
<circle cx="361.80" cy="728.56" r="6.4" fill="#e3e3e3"/>
<circle cx="378.53" cy="728.56" r="6.4" fill="#e3e3e3"/>
<circle cx="395.26" cy="728.56" r="6.4" fill="#e3e3e3"/>
<circle cx="411.99" cy="728.56" r="6.4" fill="#e3e3e3"/>
<circle cx="428.72" cy="728.56" r="6.4" fill="#e3e3e3"/>
<circle cx="445.45" cy="728.56" r="6.4" fill="#e3e3e3"/>
<rect x="464.80" y="720.89" width="7.93" height="11.50" fill="#adc3df"/>
<text x="479.93" y="733.84" font-size="17.2" fill="#7a7a7a">2</text>
<line x1="194.50" y1="747.18" x2="211.23" y2="747.18" stroke="#3a3a3a" stroke-width="3"/>
<line x1="211.23" y1="747.18" x2="227.96" y2="747.18" stroke="#3a3a3a" stroke-width="3"/>
<line x1="227.96" y1="747.18" x2="244.69" y2="747.18" stroke="#3a3a3a" stroke-width="3"/>
<line x1="244.69" y1="747.18" x2="261.42" y2="747.18" stroke="#3a3a3a" stroke-width="3"/>
<line x1="261.42" y1="747.18" x2="278.15" y2="747.18" stroke="#3a3a3a" stroke-width="3"/>
<line x1="278.15" y1="747.18" x2="294.88" y2="747.18" stroke="#3a3a3a" stroke-width="3"/>
<line x1="294.88" y1="747.18" x2="311.61" y2="747.18" stroke="#3a3a3a" stroke-width="3"/>
<line x1="311.61" y1="747.18" x2="328.34" y2="747.18" stroke="#3a3a3a" stroke-width="3"/>
<line x1="328.34" y1="747.18" x2="345.07" y2="747.18" stroke="#3a3a3a" stroke-width="3"/>
<line x1="345.07" y1="747.18" x2="361.80" y2="747.18" stroke="#3a3a3a" stroke-width="3"/>
<line x1="361.80" y1="747.18" x2="378.53" y2="747.18" stroke="#3a3a3a" stroke-width="3"/>
<line x1="378.53" y1="747.18" x2="395.26" y2="747.18" stroke="#3a3a3a" stroke-width="3"/>
<line x1="395.26" y1="747.18" x2="411.99" y2="747.18" stroke="#3a3a3a" stroke-width="3"/>
<line x1="411.99" y1="747.18" x2="428.72" y2="747.18" stroke="#3a3a3a" stroke-width="3"/>
<line x1="428.72" y1="747.18" x2="445.45" y2="747.18" stroke="#3a3a3a" stroke-width="3"/>
<circle cx="194.50" cy="747.18" r="6.4" fill="#3a3a3a"/>
<circle cx="211.23" cy="747.18" r="6.4" fill="#3a3a3a"/>
<circle cx="227.96" cy="747.18" r="6.4" fill="#3a3a3a"/>
<circle cx="244.69" cy="747.18" r="6.4" fill="#3a3a3a"/>
<circle cx="261.42" cy="747.18" r="6.4" fill="#3a3a3a"/>
<circle cx="278.15" cy="747.18" r="6.4" fill="#3a3a3a"/>
<circle cx="294.88" cy="747.18" r="6.4" fill="#3a3a3a"/>
<circle cx="311.61" cy="747.18" r="6.4" fill="#3a3a3a"/>
<circle cx="328.34" cy="747.18" r="6.4" fill="#3a3a3a"/>
<circle cx="345.07" cy="747.18" r="6.4" fill="#3a3a3a"/>
<circle cx="361.80" cy="747.18" r="6.4" fill="#3a3a3a"/>
<circle cx="378.53" cy="747.18" r="6.4" fill="#e3e3e3"/>
<circle cx="395.26" cy="747.18" r="6.4" fill="#3a3a3a"/>
<circle cx="411.99" cy="747.18" r="6.4" fill="#3a3a3a"/>
<circle cx="428.72" cy="747.18" r="6.4" fill="#3a3a3a"/>
<circle cx="445.45" cy="747.18" r="6.4" fill="#3a3a3a"/>
<line x1="361.80" y1="747.18" x2="378.53" y2="747.18" stroke="#3a3a3a" stroke-width="3"/>
<line x1="378.53" y1="747.18" x2="395.26" y2="747.18" stroke="#3a3a3a" stroke-width="3"/>
<rect x="464.80" y="739.57" width="7.93" height="11.50" fill="#adc3df"/>
<text x="479.93" y="752.52" font-size="17.2" fill="#7a7a7a">2</text>
<line x1="194.50" y1="765.80" x2="211.23" y2="765.80" stroke="#3a3a3a" stroke-width="3"/>
<line x1="211.23" y1="765.80" x2="227.96" y2="765.80" stroke="#3a3a3a" stroke-width="3"/>
<line x1="227.96" y1="765.80" x2="244.69" y2="765.80" stroke="#3a3a3a" stroke-width="3"/>
<line x1="244.69" y1="765.80" x2="261.42" y2="765.80" stroke="#3a3a3a" stroke-width="3"/>
<line x1="261.42" y1="765.80" x2="278.15" y2="765.80" stroke="#3a3a3a" stroke-width="3"/>
<line x1="278.15" y1="765.80" x2="294.88" y2="765.80" stroke="#3a3a3a" stroke-width="3"/>
<line x1="294.88" y1="765.80" x2="311.61" y2="765.80" stroke="#3a3a3a" stroke-width="3"/>
<line x1="311.61" y1="765.80" x2="328.34" y2="765.80" stroke="#3a3a3a" stroke-width="3"/>
<line x1="328.34" y1="765.80" x2="345.07" y2="765.80" stroke="#3a3a3a" stroke-width="3"/>
<line x1="345.07" y1="765.80" x2="361.80" y2="765.80" stroke="#3a3a3a" stroke-width="3"/>
<line x1="361.80" y1="765.80" x2="378.53" y2="765.80" stroke="#3a3a3a" stroke-width="3"/>
<line x1="378.53" y1="765.80" x2="395.26" y2="765.80" stroke="#3a3a3a" stroke-width="3"/>
<circle cx="194.50" cy="765.80" r="6.4" fill="#3a3a3a"/>
<circle cx="211.23" cy="765.80" r="6.4" fill="#3a3a3a"/>
<circle cx="227.96" cy="765.80" r="6.4" fill="#3a3a3a"/>
<circle cx="244.69" cy="765.80" r="6.4" fill="#3a3a3a"/>
<circle cx="261.42" cy="765.80" r="6.4" fill="#3a3a3a"/>
<circle cx="278.15" cy="765.80" r="6.4" fill="#3a3a3a"/>
<circle cx="294.88" cy="765.80" r="6.4" fill="#3a3a3a"/>
<circle cx="311.61" cy="765.80" r="6.4" fill="#3a3a3a"/>
<circle cx="328.34" cy="765.80" r="6.4" fill="#3a3a3a"/>
<circle cx="345.07" cy="765.80" r="6.4" fill="#3a3a3a"/>
<circle cx="361.80" cy="765.80" r="6.4" fill="#3a3a3a"/>
<circle cx="378.53" cy="765.80" r="6.4" fill="#3a3a3a"/>
<circle cx="395.26" cy="765.80" r="6.4" fill="#3a3a3a"/>
<circle cx="411.99" cy="765.80" r="6.4" fill="#e3e3e3"/>
<circle cx="428.72" cy="765.80" r="6.4" fill="#e3e3e3"/>
<circle cx="445.45" cy="765.80" r="6.4" fill="#e3e3e3"/>
<rect x="464.80" y="758.25" width="7.93" height="11.50" fill="#adc3df"/>
<text x="479.93" y="771.20" font-size="17.2" fill="#7a7a7a">2</text>
<line x1="196.20" y1="781.20" x2="212.93" y2="781.20" stroke="#585858" stroke-width="3"/>
<line x1="212.93" y1="781.20" x2="229.66" y2="781.20" stroke="#585858" stroke-width="3"/>
<line x1="229.66" y1="781.20" x2="246.39" y2="781.20" stroke="#585858" stroke-width="3"/>
<line x1="246.39" y1="781.20" x2="263.12" y2="781.20" stroke="#585858" stroke-width="3"/>
<line x1="263.12" y1="781.20" x2="279.85" y2="781.20" stroke="#585858" stroke-width="3"/>
<line x1="279.85" y1="781.20" x2="296.58" y2="781.20" stroke="#585858" stroke-width="3"/>
<line x1="296.58" y1="781.20" x2="313.31" y2="781.20" stroke="#585858" stroke-width="3"/>
<line x1="313.31" y1="781.20" x2="330.04" y2="781.20" stroke="#585858" stroke-width="3"/>
<line x1="330.04" y1="781.20" x2="346.77" y2="781.20" stroke="#585858" stroke-width="3"/>
<line x1="346.77" y1="781.20" x2="363.50" y2="781.20" stroke="#585858" stroke-width="3"/>
<line x1="363.50" y1="781.20" x2="380.23" y2="781.20" stroke="#585858" stroke-width="3"/>
<line x1="380.23" y1="781.20" x2="396.96" y2="781.20" stroke="#585858" stroke-width="3"/>
<line x1="396.96" y1="781.20" x2="413.69" y2="781.20" stroke="#585858" stroke-width="3"/>
<line x1="413.69" y1="781.20" x2="430.42" y2="781.20" stroke="#585858" stroke-width="3"/>
<line x1="430.42" y1="781.20" x2="447.15" y2="781.20" stroke="#585858" stroke-width="3"/>
<circle cx="196.20" cy="781.20" r="6.4" fill="#585858"/>
<circle cx="212.93" cy="781.20" r="6.4" fill="#585858"/>
<circle cx="229.66" cy="781.20" r="6.4" fill="#585858"/>
<circle cx="246.39" cy="781.20" r="6.4" fill="#e8e8e8"/>
<circle cx="263.12" cy="781.20" r="6.4" fill="#e8e8e8"/>
<circle cx="279.85" cy="781.20" r="6.4" fill="#e8e8e8"/>
<circle cx="296.58" cy="781.20" r="6.4" fill="#e8e8e8"/>
<circle cx="313.31" cy="781.20" r="6.4" fill="#e8e8e8"/>
<circle cx="330.04" cy="781.20" r="6.4" fill="#e8e8e8"/>
<circle cx="346.77" cy="781.20" r="6.4" fill="#e8e8e8"/>
<circle cx="363.50" cy="781.20" r="6.4" fill="#585858"/>
<circle cx="380.23" cy="781.20" r="6.4" fill="#585858"/>
<circle cx="396.96" cy="781.20" r="6.4" fill="#585858"/>
<circle cx="413.69" cy="781.20" r="6.4" fill="#585858"/>
<circle cx="430.42" cy="781.20" r="6.4" fill="#585858"/>
<circle cx="447.15" cy="781.20" r="6.4" fill="#585858"/>
<line x1="229.66" y1="781.20" x2="246.39" y2="781.20" stroke="#585858" stroke-width="3"/>
<line x1="246.39" y1="781.20" x2="263.12" y2="781.20" stroke="#585858" stroke-width="3"/>
<line x1="263.12" y1="781.20" x2="279.85" y2="781.20" stroke="#585858" stroke-width="3"/>
<line x1="279.85" y1="781.20" x2="296.58" y2="781.20" stroke="#585858" stroke-width="3"/>
<line x1="296.58" y1="781.20" x2="313.31" y2="781.20" stroke="#585858" stroke-width="3"/>
<line x1="313.31" y1="781.20" x2="330.04" y2="781.20" stroke="#585858" stroke-width="3"/>
<line x1="330.04" y1="781.20" x2="346.77" y2="781.20" stroke="#585858" stroke-width="3"/>
<line x1="346.77" y1="781.20" x2="363.50" y2="781.20" stroke="#585858" stroke-width="3"/>
<rect x="464.80" y="775.75" width="3.41" height="11.50" fill="#adc3df"/>
<text x="475.42" y="788.70" font-size="17.2" fill="#7a7a7a">1</text>
<line x1="196.20" y1="800.00" x2="212.93" y2="800.00" stroke="#6e6e6e" stroke-width="3"/>
<line x1="212.93" y1="800.00" x2="229.66" y2="800.00" stroke="#6e6e6e" stroke-width="3"/>
<line x1="229.66" y1="800.00" x2="246.39" y2="800.00" stroke="#6e6e6e" stroke-width="3"/>
<line x1="246.39" y1="800.00" x2="263.12" y2="800.00" stroke="#6e6e6e" stroke-width="3"/>
<line x1="263.12" y1="800.00" x2="279.85" y2="800.00" stroke="#6e6e6e" stroke-width="3"/>
<line x1="279.85" y1="800.00" x2="296.58" y2="800.00" stroke="#6e6e6e" stroke-width="3"/>
<line x1="296.58" y1="800.00" x2="313.31" y2="800.00" stroke="#6e6e6e" stroke-width="3"/>
<line x1="313.31" y1="800.00" x2="330.04" y2="800.00" stroke="#6e6e6e" stroke-width="3"/>
<line x1="330.04" y1="800.00" x2="346.77" y2="800.00" stroke="#6e6e6e" stroke-width="3"/>
<line x1="346.77" y1="800.00" x2="363.50" y2="800.00" stroke="#6e6e6e" stroke-width="3"/>
<line x1="363.50" y1="800.00" x2="380.23" y2="800.00" stroke="#6e6e6e" stroke-width="3"/>
<line x1="380.23" y1="800.00" x2="396.96" y2="800.00" stroke="#6e6e6e" stroke-width="3"/>
<line x1="396.96" y1="800.00" x2="413.69" y2="800.00" stroke="#6e6e6e" stroke-width="3"/>
<line x1="413.69" y1="800.00" x2="430.42" y2="800.00" stroke="#6e6e6e" stroke-width="3"/>
<line x1="430.42" y1="800.00" x2="447.15" y2="800.00" stroke="#6e6e6e" stroke-width="3"/>
<circle cx="196.20" cy="800.00" r="6.4" fill="#6e6e6e"/>
<circle cx="212.93" cy="800.00" r="6.4" fill="#6e6e6e"/>
<circle cx="229.66" cy="800.00" r="6.4" fill="#6e6e6e"/>
<circle cx="246.39" cy="800.00" r="6.4" fill="#ebebeb"/>
<circle cx="263.12" cy="800.00" r="6.4" fill="#ebebeb"/>
<circle cx="279.85" cy="800.00" r="6.4" fill="#ebebeb"/>
<circle cx="296.58" cy="800.00" r="6.4" fill="#6e6e6e"/>
<circle cx="313.31" cy="800.00" r="6.4" fill="#6e6e6e"/>
<circle cx="330.04" cy="800.00" r="6.4" fill="#6e6e6e"/>
<circle cx="346.77" cy="800.00" r="6.4" fill="#6e6e6e"/>
<circle cx="363.50" cy="800.00" r="6.4" fill="#6e6e6e"/>
<circle cx="380.23" cy="800.00" r="6.4" fill="#6e6e6e"/>
<circle cx="396.96" cy="800.00" r="6.4" fill="#6e6e6e"/>
<circle cx="413.69" cy="800.00" r="6.4" fill="#6e6e6e"/>
<circle cx="430.42" cy="800.00" r="6.4" fill="#6e6e6e"/>
<circle cx="447.15" cy="800.00" r="6.4" fill="#6e6e6e"/>
<line x1="229.66" y1="800.00" x2="246.39" y2="800.00" stroke="#6e6e6e" stroke-width="3"/>
<line x1="246.39" y1="800.00" x2="263.12" y2="800.00" stroke="#6e6e6e" stroke-width="3"/>
<line x1="263.12" y1="800.00" x2="279.85" y2="800.00" stroke="#6e6e6e" stroke-width="3"/>
<line x1="279.85" y1="800.00" x2="296.58" y2="800.00" stroke="#6e6e6e" stroke-width="3"/>
<rect x="464.80" y="794.55" width="3.41" height="11.50" fill="#adc3df"/>
<text x="475.42" y="807.50" font-size="17.2" fill="#7a7a7a">1</text>
<line x1="196.20" y1="818.80" x2="212.93" y2="818.80" stroke="#8c8c8c" stroke-width="3"/>
<line x1="212.93" y1="818.80" x2="229.66" y2="818.80" stroke="#8c8c8c" stroke-width="3"/>
<line x1="229.66" y1="818.80" x2="246.39" y2="818.80" stroke="#8c8c8c" stroke-width="3"/>
<line x1="246.39" y1="818.80" x2="263.12" y2="818.80" stroke="#8c8c8c" stroke-width="3"/>
<line x1="263.12" y1="818.80" x2="279.85" y2="818.80" stroke="#8c8c8c" stroke-width="3"/>
<line x1="279.85" y1="818.80" x2="296.58" y2="818.80" stroke="#8c8c8c" stroke-width="3"/>
<line x1="296.58" y1="818.80" x2="313.31" y2="818.80" stroke="#8c8c8c" stroke-width="3"/>
<line x1="313.31" y1="818.80" x2="330.04" y2="818.80" stroke="#8c8c8c" stroke-width="3"/>
<line x1="330.04" y1="818.80" x2="346.77" y2="818.80" stroke="#8c8c8c" stroke-width="3"/>
<line x1="346.77" y1="818.80" x2="363.50" y2="818.80" stroke="#8c8c8c" stroke-width="3"/>
<line x1="363.50" y1="818.80" x2="380.23" y2="818.80" stroke="#8c8c8c" stroke-width="3"/>
<line x1="380.23" y1="818.80" x2="396.96" y2="818.80" stroke="#8c8c8c" stroke-width="3"/>
<line x1="396.96" y1="818.80" x2="413.69" y2="818.80" stroke="#8c8c8c" stroke-width="3"/>
<line x1="413.69" y1="818.80" x2="430.42" y2="818.80" stroke="#8c8c8c" stroke-width="3"/>
<line x1="430.42" y1="818.80" x2="447.15" y2="818.80" stroke="#8c8c8c" stroke-width="3"/>
<circle cx="196.20" cy="818.80" r="6.4" fill="#8c8c8c"/>
<circle cx="212.93" cy="818.80" r="6.4" fill="#8c8c8c"/>
<circle cx="229.66" cy="818.80" r="6.4" fill="#8c8c8c"/>
<circle cx="246.39" cy="818.80" r="6.4" fill="#eeeeee"/>
<circle cx="263.12" cy="818.80" r="6.4" fill="#8c8c8c"/>
<circle cx="279.85" cy="818.80" r="6.4" fill="#8c8c8c"/>
<circle cx="296.58" cy="818.80" r="6.4" fill="#8c8c8c"/>
<circle cx="313.31" cy="818.80" r="6.4" fill="#8c8c8c"/>
<circle cx="330.04" cy="818.80" r="6.4" fill="#8c8c8c"/>
<circle cx="346.77" cy="818.80" r="6.4" fill="#8c8c8c"/>
<circle cx="363.50" cy="818.80" r="6.4" fill="#8c8c8c"/>
<circle cx="380.23" cy="818.80" r="6.4" fill="#8c8c8c"/>
<circle cx="396.96" cy="818.80" r="6.4" fill="#8c8c8c"/>
<circle cx="413.69" cy="818.80" r="6.4" fill="#8c8c8c"/>
<circle cx="430.42" cy="818.80" r="6.4" fill="#8c8c8c"/>
<circle cx="447.15" cy="818.80" r="6.4" fill="#8c8c8c"/>
<line x1="229.66" y1="818.80" x2="246.39" y2="818.80" stroke="#8c8c8c" stroke-width="3"/>
<line x1="246.39" y1="818.80" x2="263.12" y2="818.80" stroke="#8c8c8c" stroke-width="3"/>
<rect x="464.80" y="813.35" width="3.41" height="11.50" fill="#adc3df"/>
<text x="475.42" y="826.30" font-size="17.2" fill="#7a7a7a">1</text>
<line x1="196.20" y1="837.60" x2="212.93" y2="837.60" stroke="#a4a4a4" stroke-width="3"/>
<line x1="212.93" y1="837.60" x2="229.66" y2="837.60" stroke="#a4a4a4" stroke-width="3"/>
<line x1="229.66" y1="837.60" x2="246.39" y2="837.60" stroke="#a4a4a4" stroke-width="3"/>
<circle cx="196.20" cy="837.60" r="6.4" fill="#a4a4a4"/>
<circle cx="212.93" cy="837.60" r="6.4" fill="#a4a4a4"/>
<circle cx="229.66" cy="837.60" r="6.4" fill="#a4a4a4"/>
<circle cx="246.39" cy="837.60" r="6.4" fill="#a4a4a4"/>
<circle cx="263.12" cy="837.60" r="6.4" fill="#f1f1f1"/>
<circle cx="279.85" cy="837.60" r="6.4" fill="#f1f1f1"/>
<circle cx="296.58" cy="837.60" r="6.4" fill="#f1f1f1"/>
<circle cx="313.31" cy="837.60" r="6.4" fill="#f1f1f1"/>
<circle cx="330.04" cy="837.60" r="6.4" fill="#f1f1f1"/>
<circle cx="346.77" cy="837.60" r="6.4" fill="#f1f1f1"/>
<circle cx="363.50" cy="837.60" r="6.4" fill="#f1f1f1"/>
<circle cx="380.23" cy="837.60" r="6.4" fill="#f1f1f1"/>
<circle cx="396.96" cy="837.60" r="6.4" fill="#f1f1f1"/>
<circle cx="413.69" cy="837.60" r="6.4" fill="#f1f1f1"/>
<circle cx="430.42" cy="837.60" r="6.4" fill="#f1f1f1"/>
<circle cx="447.15" cy="837.60" r="6.4" fill="#f1f1f1"/>
<rect x="464.80" y="832.15" width="3.41" height="11.50" fill="#adc3df"/>
<text x="475.42" y="845.10" font-size="17.2" fill="#7a7a7a">1</text>
<line x1="196.20" y1="856.40" x2="212.93" y2="856.40" stroke="#bcbcbc" stroke-width="3"/>
<line x1="212.93" y1="856.40" x2="229.66" y2="856.40" stroke="#bcbcbc" stroke-width="3"/>
<line x1="229.66" y1="856.40" x2="246.39" y2="856.40" stroke="#bcbcbc" stroke-width="3"/>
<line x1="246.39" y1="856.40" x2="263.12" y2="856.40" stroke="#bcbcbc" stroke-width="3"/>
<line x1="263.12" y1="856.40" x2="279.85" y2="856.40" stroke="#bcbcbc" stroke-width="3"/>
<line x1="279.85" y1="856.40" x2="296.58" y2="856.40" stroke="#bcbcbc" stroke-width="3"/>
<line x1="296.58" y1="856.40" x2="313.31" y2="856.40" stroke="#bcbcbc" stroke-width="3"/>
<line x1="313.31" y1="856.40" x2="330.04" y2="856.40" stroke="#bcbcbc" stroke-width="3"/>
<line x1="330.04" y1="856.40" x2="346.77" y2="856.40" stroke="#bcbcbc" stroke-width="3"/>
<line x1="346.77" y1="856.40" x2="363.50" y2="856.40" stroke="#bcbcbc" stroke-width="3"/>
<line x1="363.50" y1="856.40" x2="380.23" y2="856.40" stroke="#bcbcbc" stroke-width="3"/>
<line x1="380.23" y1="856.40" x2="396.96" y2="856.40" stroke="#bcbcbc" stroke-width="3"/>
<circle cx="196.20" cy="856.40" r="6.4" fill="#bcbcbc"/>
<circle cx="212.93" cy="856.40" r="6.4" fill="#bcbcbc"/>
<circle cx="229.66" cy="856.40" r="6.4" fill="#bcbcbc"/>
<circle cx="246.39" cy="856.40" r="6.4" fill="#bcbcbc"/>
<circle cx="263.12" cy="856.40" r="6.4" fill="#f4f4f4"/>
<circle cx="279.85" cy="856.40" r="6.4" fill="#bcbcbc"/>
<circle cx="296.58" cy="856.40" r="6.4" fill="#bcbcbc"/>
<circle cx="313.31" cy="856.40" r="6.4" fill="#bcbcbc"/>
<circle cx="330.04" cy="856.40" r="6.4" fill="#bcbcbc"/>
<circle cx="346.77" cy="856.40" r="6.4" fill="#bcbcbc"/>
<circle cx="363.50" cy="856.40" r="6.4" fill="#bcbcbc"/>
<circle cx="380.23" cy="856.40" r="6.4" fill="#bcbcbc"/>
<circle cx="396.96" cy="856.40" r="6.4" fill="#bcbcbc"/>
<circle cx="413.69" cy="856.40" r="6.4" fill="#f4f4f4"/>
<circle cx="430.42" cy="856.40" r="6.4" fill="#f4f4f4"/>
<circle cx="447.15" cy="856.40" r="6.4" fill="#f4f4f4"/>
<line x1="246.39" y1="856.40" x2="263.12" y2="856.40" stroke="#bcbcbc" stroke-width="3"/>
<line x1="263.12" y1="856.40" x2="279.85" y2="856.40" stroke="#bcbcbc" stroke-width="3"/>
<rect x="464.80" y="850.95" width="3.41" height="11.50" fill="#adc3df"/>
<text x="475.42" y="863.90" font-size="17.2" fill="#7a7a7a">1</text>
<rect x="462.10" y="278.00" width="2.70" height="587.00" fill="#000"/>
<rect x="459.30" y="277.70" width="714.40" height="1.90" fill="#000"/>
<rect x="462.20" y="272.00" width="2.40" height="6.00" fill="#000"/>
<rect x="688.30" y="272.00" width="2.40" height="6.00" fill="#000"/>
<rect x="914.00" y="272.00" width="2.40" height="6.00" fill="#000"/>
<rect x="1139.70" y="272.00" width="2.40" height="6.00" fill="#000"/>
<rect x="454.50" y="281.30" width="4.40" height="1.40" fill="#222"/>
<text transform="translate(460.00,268.50) rotate(90)" font-size="17.2" fill="#000" text-anchor="end">0</text>
<text transform="translate(684.50,268.50) rotate(90)" font-size="17.2" fill="#000" text-anchor="end">50</text>
<text transform="translate(910.20,268.50) rotate(90)" font-size="17.2" fill="#000" text-anchor="end">100</text>
<text transform="translate(1135.90,268.50) rotate(90)" font-size="17.2" fill="#000" text-anchor="end">150</text>
<text x="666.00" y="226.60" font-size="20.5" fill="#000" textLength="314.2" lengthAdjust="spacingAndGlyphs">Structural fingerprint abundance</text>
<path d="M159.50,322.20 L159.50,317.50 M159.50,322.20 L163.97,320.75 M159.50,322.20 L162.26,326.00 M159.50,322.20 L156.74,326.00 M159.50,322.20 L155.03,320.75" fill="none" stroke="#000" stroke-width="1.75" stroke-linecap="round"/>
<path d="M159.50,339.30 L159.50,334.60 M159.50,339.30 L163.97,337.85 M159.50,339.30 L162.26,343.10 M159.50,339.30 L156.74,343.10 M159.50,339.30 L155.03,337.85" fill="none" stroke="#000" stroke-width="1.75" stroke-linecap="round"/>
<path d="M159.50,356.70 L159.50,352.00 M159.50,356.70 L163.97,355.25 M159.50,356.70 L162.26,360.50 M159.50,356.70 L156.74,360.50 M159.50,356.70 L155.03,355.25" fill="none" stroke="#000" stroke-width="1.75" stroke-linecap="round"/>
<path d="M159.50,393.80 L159.50,389.10 M159.50,393.80 L163.97,392.35 M159.50,393.80 L162.26,397.60 M159.50,393.80 L156.74,397.60 M159.50,393.80 L155.03,392.35" fill="none" stroke="#000" stroke-width="1.75" stroke-linecap="round"/>
<path d="M159.50,411.20 L159.50,406.50 M159.50,411.20 L163.97,409.75 M159.50,411.20 L162.26,415.00 M159.50,411.20 L156.74,415.00 M159.50,411.20 L155.03,409.75" fill="none" stroke="#000" stroke-width="1.75" stroke-linecap="round"/>
<path d="M159.50,468.50 L159.50,463.80 M159.50,468.50 L163.97,467.05 M159.50,468.50 L162.26,472.30 M159.50,468.50 L156.74,472.30 M159.50,468.50 L155.03,467.05" fill="none" stroke="#000" stroke-width="1.75" stroke-linecap="round"/>
<path d="M159.50,617.70 L159.50,613.00 M159.50,617.70 L163.97,616.25 M159.50,617.70 L162.26,621.50 M159.50,617.70 L156.74,621.50 M159.50,617.70 L155.03,616.25" fill="none" stroke="#000" stroke-width="1.75" stroke-linecap="round"/>
<path d="M159.50,673.20 L159.50,668.50 M159.50,673.20 L163.97,671.75 M159.50,673.20 L162.26,677.00 M159.50,673.20 L156.74,677.00 M159.50,673.20 L155.03,671.75" fill="none" stroke="#000" stroke-width="1.75" stroke-linecap="round"/>
<path d="M159.50,709.80 L159.50,705.10 M159.50,709.80 L163.97,708.35 M159.50,709.80 L162.26,713.60 M159.50,709.80 L156.74,713.60 M159.50,709.80 L155.03,708.35" fill="none" stroke="#000" stroke-width="1.75" stroke-linecap="round"/>
<path d="M159.50,747.90 L159.50,743.20 M159.50,747.90 L163.97,746.45 M159.50,747.90 L162.26,751.70 M159.50,747.90 L156.74,751.70 M159.50,747.90 L155.03,746.45" fill="none" stroke="#000" stroke-width="1.75" stroke-linecap="round"/>
<path d="M159.50,765.90 L159.50,761.20 M159.50,765.90 L163.97,764.45 M159.50,765.90 L162.26,769.70 M159.50,765.90 L156.74,769.70 M159.50,765.90 L155.03,764.45" fill="none" stroke="#000" stroke-width="1.75" stroke-linecap="round"/>
<path d="M159.50,783.90 L159.50,779.20 M159.50,783.90 L163.97,782.45 M159.50,783.90 L162.26,787.70 M159.50,783.90 L156.74,787.70 M159.50,783.90 L155.03,782.45" fill="none" stroke="#000" stroke-width="1.75" stroke-linecap="round"/>
<text transform="translate(122.30,430.00) rotate(90)" font-size="20.5" fill="#000" textLength="291.2" lengthAdjust="spacingAndGlyphs">55 unique structural fingerprints</text>
<rect x="124.80" y="297.00" width="2.40" height="105.00" fill="#888"/>
<rect x="125.50" y="748.00" width="2.40" height="115.00" fill="url(#gv)"/>
<line x1="833" y1="313" x2="833" y2="455" stroke="#cccccc" stroke-width="1.6" stroke-dasharray="28.6 28.6"/>
<line x1="833" y1="466" x2="862" y2="466" stroke="#cccccc" stroke-width="3" stroke-dasharray="30 0"/>
<path d="M864,460 L876,466 L864,472 L868,466 Z" fill="#cccccc"/>
<line x1="772.2" y1="328.6" x2="772.2" y2="585" stroke="#cccccc" stroke-width="1.6" stroke-dasharray="28.6 28.6"/>
<line x1="772" y1="613" x2="858" y2="613" stroke="#cccccc" stroke-width="3" stroke-dasharray="28.6 28.6"/>
<path d="M864,607 L876,613 L864,619 L868,613 Z" fill="#cccccc"/>
<line x1="624.9" y1="344.3" x2="624.9" y2="769" stroke="#cccccc" stroke-width="1.6" stroke-dasharray="28.6 28.6"/>
<line x1="624.9" y1="769" x2="860" y2="769" stroke="#cccccc" stroke-width="3" stroke-dasharray="28.6 28.6"/>
<path d="M864,763 L876,769 L864,775 L868,769 Z" fill="#cccccc"/>
<text x="890.50" y="337.00" font-size="22.5" fill="#000" textLength="284.2" lengthAdjust="spacingAndGlyphs">Receptor class distribution</text>
<path d="M948.20,455.20 L948.20,387.70 A67.5,67.5 0 0 1 949.97,387.72 Z" fill="#bbbbbb"/>
<path d="M948.20,455.20 L949.97,387.72 A67.5,67.5 0 0 1 961.20,388.96 Z" fill="#8a8a8a"/>
<path d="M948.20,455.20 L961.20,388.96 A67.5,67.5 0 0 1 991.41,403.34 Z" fill="#d4d4d4"/>
<path d="M948.20,455.20 L991.41,403.34 A67.5,67.5 0 0 1 1012.85,474.60 Z" fill="#757575"/>
<path d="M948.20,455.20 L1012.85,474.60 A67.5,67.5 0 0 1 1003.36,494.11 Z" fill="#e6e6e6"/>
<path d="M948.20,455.20 L1003.36,494.11 A67.5,67.5 0 1 1 948.20,387.70 Z" fill="#5a5a5a"/>
<line x1="948.90" y1="381.70" x2="948.90" y2="401.30" stroke="#bbb" stroke-width="1.5"/>
<line x1="964.00" y1="383.00" x2="956.80" y2="401.30" stroke="#555" stroke-width="1.5"/>
<line x1="991.00" y1="479.90" x2="1008.40" y2="491.60" stroke="#555" stroke-width="1.5"/>
<text x="921.00" y="376.00" font-size="17.3" fill="#444" text-anchor="middle">Taste 2</text>
<text x="988.00" y="376.00" font-size="17.3" fill="#444" text-anchor="middle">Other</text>
<text x="918.80" y="452.00" font-size="17.3" fill="#fff" text-anchor="middle">A</text>
<text x="985.00" y="452.00" font-size="17.3" fill="#fff" text-anchor="middle">B2</text>
<text x="970.70" y="418.00" font-size="17.3" fill="#444" text-anchor="middle">C</text>
<text x="1025.00" y="498.00" font-size="17.3" fill="#444" text-anchor="middle">B1</text>
<text x="1042.50" y="441.00" font-size="20" fill="#000" textLength="94.6" lengthAdjust="spacingAndGlyphs">Reference</text>
<text x="1042.50" y="466.00" font-size="20" fill="#000" textLength="80.4" lengthAdjust="spacingAndGlyphs">isoforms</text>
<path d="M948.90,604.90 L948.90,537.90 A67,67 0 0 1 952.41,537.99 Z" fill="#8a8a8a"/>
<path d="M948.90,604.90 L952.41,537.99 A67,67 0 0 1 970.60,541.51 Z" fill="#d4d4d4"/>
<path d="M948.90,604.90 L970.60,541.51 A67,67 0 1 1 893.88,643.14 Z" fill="#757575"/>
<path d="M948.90,604.90 L893.88,643.14 A67,67 0 0 1 885.78,627.38 Z" fill="#e6e6e6"/>
<path d="M948.90,604.90 L885.78,627.38 A67,67 0 0 1 948.90,537.90 Z" fill="#5a5a5a"/>
<line x1="903.00" y1="541.50" x2="950.50" y2="547.00" stroke="#555" stroke-width="1.5"/>
<line x1="885.00" y1="644.40" x2="908.00" y2="627.70" stroke="#555" stroke-width="1.5"/>
<text x="873.80" y="542.00" font-size="17.3" fill="#444" text-anchor="middle">Other</text>
<text x="870.70" y="656.50" font-size="17.3" fill="#444" text-anchor="middle">B1</text>
<text x="958.40" y="564.50" font-size="17.3" fill="#444" text-anchor="middle">C</text>
<text x="918.80" y="596.30" font-size="17.3" fill="#fff" text-anchor="middle">A</text>
<text x="985.30" y="618.50" font-size="17.3" fill="#fff" text-anchor="middle">B2</text>
<text x="1042.50" y="587.00" font-size="20" fill="#000" textLength="97.1" lengthAdjust="spacingAndGlyphs">N-terminal</text>
<text x="1042.50" y="612.00" font-size="20" fill="#000" textLength="73.1" lengthAdjust="spacingAndGlyphs">variants</text>
<path d="M949.80,753.00 L949.80,686.00 A67,67 0 0 1 1002.81,712.03 Z" fill="#d4d4d4"/>
<path d="M949.80,753.00 L1002.81,712.03 A67,67 0 0 1 1004.62,791.53 Z" fill="#757575"/>
<path d="M949.80,753.00 L1004.62,791.53 A67,67 0 0 1 1002.23,794.71 Z" fill="#eeeeee"/>
<path d="M949.80,753.00 L1002.23,794.71 A67,67 0 1 1 949.80,686.00 Z" fill="#5a5a5a"/>
<line x1="987.70" y1="783.90" x2="1004.00" y2="799.30" stroke="#666" stroke-width="1.6"/>
<text x="971.00" y="721.30" font-size="17.3" fill="#444" text-anchor="middle">C</text>
<text x="985.00" y="760.00" font-size="17.3" fill="#fff" text-anchor="middle">B2</text>
<text x="918.80" y="762.00" font-size="17.3" fill="#fff" text-anchor="middle">A</text>
<text x="1021.00" y="813.70" font-size="17.3" fill="#444" text-anchor="middle">B1</text>
<text x="1042.50" y="737.00" font-size="20" fill="#000" textLength="97.1" lengthAdjust="spacingAndGlyphs">C-terminal</text>
<text x="1042.50" y="762.00" font-size="20" fill="#000" textLength="73.1" lengthAdjust="spacingAndGlyphs">variants</text>
<path d="M538,845 L635.4,845 L635.4,898" fill="none" stroke="#bbb" stroke-width="2"/>
<path d="M629.5,896 L641.3,896 L635.4,905 Z" fill="#bbb"/>
<path d="M661.00,873.70 L661.00,866.10 M661.00,873.70 L668.23,871.35 M661.00,873.70 L665.47,879.85 M661.00,873.70 L656.53,879.85 M661.00,873.70 L653.77,871.35" fill="none" stroke="#000" stroke-width="2.8" stroke-linecap="round"/>
<text x="688.80" y="866.70" font-size="18.8" fill="#000" textLength="452.2" lengthAdjust="spacingAndGlyphs">Functionally validated structural fingerprints in the</text>
<text x="688.80" y="893.00" font-size="18.8" fill="#000" textLength="80.0" lengthAdjust="spacingAndGlyphs">literature</text>
<text x="40.00" y="967.00" font-size="29" fill="#000" font-weight="bold">c</text>
<text x="530.30" y="931.00" font-size="18.9" fill="#000" textLength="74.7" lengthAdjust="spacingAndGlyphs">Affected</text>
<text x="517.80" y="954.50" font-size="18.9" fill="#000" textLength="96.7" lengthAdjust="spacingAndGlyphs">segment(s)</text>
<text x="816.00" y="931.00" font-size="18.9" fill="#000" textLength="92.8" lengthAdjust="spacingAndGlyphs">Functional</text>
<text x="833.50" y="954.50" font-size="18.9" fill="#000" textLength="61.9" lengthAdjust="spacingAndGlyphs">impact</text>
<text x="127.00" y="1016.00" font-size="19.7" fill="#111" text-anchor="end">N term</text>
<path d="M145.90,997.20 L158.10,997.20 L165.30,1004.40 L165.30,1016.60 L158.10,1023.80 L145.90,1023.80 L138.70,1016.60 L138.70,1004.40 Z" fill="#c9c9c9" stroke="#c9c9c9" stroke-width="1.6" stroke-linejoin="round"/>
<circle cx="152.00" cy="1010.50" r="11.5" fill="#e4e4e4"/>
<path d="M152.00,1010.00 L152.00,1003.40 M152.00,1010.00 L158.28,1007.96 M152.00,1010.00 L155.88,1015.34 M152.00,1010.00 L148.12,1015.34 M152.00,1010.00 L145.72,1007.96" fill="none" stroke="#9dd3c2" stroke-width="2.6" stroke-linecap="butt"/>
<text x="127.00" y="1237.50" font-size="19.7" fill="#111" text-anchor="end">C term</text>
<path d="M146.30,1219.70 L158.50,1219.70 L165.70,1226.90 L165.70,1239.10 L158.50,1246.30 L146.30,1246.30 L139.10,1239.10 L139.10,1226.90 Z" fill="#c9c9c9" stroke="#c9c9c9" stroke-width="1.6" stroke-linejoin="round"/>
<circle cx="152.40" cy="1233.00" r="11.5" fill="#e4e4e4"/>
<path d="M152.40,1232.50 L152.40,1225.90 M152.40,1232.50 L158.68,1230.46 M152.40,1232.50 L156.28,1237.84 M152.40,1232.50 L148.52,1237.84 M152.40,1232.50 L146.12,1230.46" fill="none" stroke="#3a9a85" stroke-width="2.6" stroke-linecap="butt"/>
<text x="127.00" y="1331.00" font-size="19.7" fill="#111" text-anchor="end">TM3 to C term</text>
<path d="M147.80,1311.70 L160.00,1311.70 L167.20,1318.90 L167.20,1331.10 L160.00,1338.30 L147.80,1338.30 L140.60,1331.10 L140.60,1318.90 Z" fill="#c9c9c9" stroke="#c9c9c9" stroke-width="1.6" stroke-linejoin="round"/>
<circle cx="153.90" cy="1325.00" r="11.5" fill="#e4e4e4"/>
<path d="M153.90,1324.50 L153.90,1317.90 M153.90,1324.50 L160.18,1322.46 M153.90,1324.50 L157.78,1329.84 M153.90,1324.50 L150.02,1329.84 M153.90,1324.50 L147.62,1322.46" fill="none" stroke="#f0e030" stroke-width="2.6" stroke-linecap="butt"/>
<text x="127.00" y="1409.00" font-size="19.7" fill="#111" text-anchor="end">TM4 to C term</text>
<path d="M149.90,1388.70 L162.10,1388.70 L169.30,1395.90 L169.30,1408.10 L162.10,1415.30 L149.90,1415.30 L142.70,1408.10 L142.70,1395.90 Z" fill="#c9c9c9" stroke="#c9c9c9" stroke-width="1.6" stroke-linejoin="round"/>
<circle cx="156.00" cy="1402.00" r="11.5" fill="#e4e4e4"/>
<path d="M156.00,1401.50 L156.00,1394.90 M156.00,1401.50 L162.28,1399.46 M156.00,1401.50 L159.88,1406.84 M156.00,1401.50 L152.12,1406.84 M156.00,1401.50 L149.72,1399.46" fill="none" stroke="#c8c820" stroke-width="2.6" stroke-linecap="butt"/>
<text x="127.00" y="1486.00" font-size="19.7" fill="#111" text-anchor="end">H8 to C term</text>
<path d="M149.90,1466.70 L162.10,1466.70 L169.30,1473.90 L169.30,1486.10 L162.10,1493.30 L149.90,1493.30 L142.70,1486.10 L142.70,1473.90 Z" fill="#c9c9c9" stroke="#c9c9c9" stroke-width="1.6" stroke-linejoin="round"/>
<circle cx="156.00" cy="1480.00" r="11.5" fill="#e4e4e4"/>
<path d="M156.00,1479.50 L156.00,1472.90 M156.00,1479.50 L162.28,1477.46 M156.00,1479.50 L159.88,1484.84 M156.00,1479.50 L152.12,1484.84 M156.00,1479.50 L149.72,1477.46" fill="none" stroke="#fcb870" stroke-width="2.6" stroke-linecap="butt"/>
<text x="127.00" y="1531.00" font-size="19.7" fill="#111" text-anchor="end">TM6 to C term</text>
<path d="M149.90,1513.70 L162.10,1513.70 L169.30,1520.90 L169.30,1533.10 L162.10,1540.30 L149.90,1540.30 L142.70,1533.10 L142.70,1520.90 Z" fill="#c9c9c9" stroke="#c9c9c9" stroke-width="1.6" stroke-linejoin="round"/>
<circle cx="156.00" cy="1527.00" r="11.5" fill="#e4e4e4"/>
<path d="M156.00,1526.50 L156.00,1519.90 M156.00,1526.50 L162.28,1524.46 M156.00,1526.50 L159.88,1531.84 M156.00,1526.50 L152.12,1531.84 M156.00,1526.50 L149.72,1524.46" fill="none" stroke="#f08020" stroke-width="2.6" stroke-linecap="butt"/>
<text x="127.00" y="1580.00" font-size="19.7" fill="#111" text-anchor="end">ICL3</text>
<path d="M149.90,1560.70 L162.10,1560.70 L169.30,1567.90 L169.30,1580.10 L162.10,1587.30 L149.90,1587.30 L142.70,1580.10 L142.70,1567.90 Z" fill="#c9c9c9" stroke="#c9c9c9" stroke-width="1.6" stroke-linejoin="round"/>
<circle cx="156.00" cy="1574.00" r="11.5" fill="#e4e4e4"/>
<path d="M156.00,1573.50 L156.00,1566.90 M156.00,1573.50 L162.28,1571.46 M156.00,1573.50 L159.88,1578.84 M156.00,1573.50 L152.12,1578.84 M156.00,1573.50 L149.72,1571.46" fill="none" stroke="#f3a080" stroke-width="2.6" stroke-linecap="butt"/>
<text x="127.00" y="1611.00" font-size="19.7" fill="#111" text-anchor="end">N term to ICL1</text>
<path d="M149.90,1591.70 L162.10,1591.70 L169.30,1598.90 L169.30,1611.10 L162.10,1618.30 L149.90,1618.30 L142.70,1611.10 L142.70,1598.90 Z" fill="#c9c9c9" stroke="#c9c9c9" stroke-width="1.6" stroke-linejoin="round"/>
<circle cx="156.00" cy="1605.00" r="11.5" fill="#e4e4e4"/>
<path d="M156.00,1604.50 L156.00,1597.90 M156.00,1604.50 L162.28,1602.46 M156.00,1604.50 L159.88,1609.84 M156.00,1604.50 L152.12,1609.84 M156.00,1604.50 L149.72,1602.46" fill="none" stroke="#e05038" stroke-width="2.6" stroke-linecap="butt"/>
<text x="127.00" y="1640.00" font-size="19.7" fill="#111" text-anchor="end">TM1</text>
<path d="M149.90,1620.20 L162.10,1620.20 L169.30,1627.40 L169.30,1639.60 L162.10,1646.80 L149.90,1646.80 L142.70,1639.60 L142.70,1627.40 Z" fill="#c9c9c9" stroke="#c9c9c9" stroke-width="1.6" stroke-linejoin="round"/>
<circle cx="156.00" cy="1633.50" r="11.5" fill="#e4e4e4"/>
<path d="M156.00,1633.00 L156.00,1626.40 M156.00,1633.00 L162.28,1630.96 M156.00,1633.00 L159.88,1638.34 M156.00,1633.00 L152.12,1638.34 M156.00,1633.00 L149.72,1630.96" fill="none" stroke="#c8b4e4" stroke-width="2.6" stroke-linecap="butt"/>
<text x="127.00" y="1670.00" font-size="19.7" fill="#111" text-anchor="end">TM6</text>
<path d="M149.90,1650.70 L162.10,1650.70 L169.30,1657.90 L169.30,1670.10 L162.10,1677.30 L149.90,1677.30 L142.70,1670.10 L142.70,1657.90 Z" fill="#c9c9c9" stroke="#c9c9c9" stroke-width="1.6" stroke-linejoin="round"/>
<circle cx="156.00" cy="1664.00" r="11.5" fill="#e4e4e4"/>
<path d="M156.00,1663.50 L156.00,1656.90 M156.00,1663.50 L162.28,1661.46 M156.00,1663.50 L159.88,1668.84 M156.00,1663.50 L152.12,1668.84 M156.00,1663.50 L149.72,1661.46" fill="none" stroke="#6a48a8" stroke-width="2.6" stroke-linecap="butt"/>
<text x="127.00" y="1697.50" font-size="19.7" fill="#111" text-anchor="end">TM7 to C term</text>
<path d="M149.90,1679.20 L162.10,1679.20 L169.30,1686.40 L169.30,1698.60 L162.10,1705.80 L149.90,1705.80 L142.70,1698.60 L142.70,1686.40 Z" fill="#c9c9c9" stroke="#c9c9c9" stroke-width="1.6" stroke-linejoin="round"/>
<circle cx="156.00" cy="1692.50" r="11.5" fill="#e4e4e4"/>
<path d="M156.00,1692.00 L156.00,1685.40 M156.00,1692.00 L162.28,1689.96 M156.00,1692.00 L159.88,1697.34 M156.00,1692.00 L152.12,1697.34 M156.00,1692.00 L149.72,1689.96" fill="none" stroke="#d4d4d4" stroke-width="2.6" stroke-linecap="butt"/>
<text x="127.00" y="1728.50" font-size="19.7" fill="#111" text-anchor="end">TM2 to TM5</text>
<path d="M149.90,1709.20 L162.10,1709.20 L169.30,1716.40 L169.30,1728.60 L162.10,1735.80 L149.90,1735.80 L142.70,1728.60 L142.70,1716.40 Z" fill="#c9c9c9" stroke="#c9c9c9" stroke-width="1.6" stroke-linejoin="round"/>
<circle cx="156.00" cy="1722.50" r="11.5" fill="#e4e4e4"/>
<path d="M156.00,1722.00 L156.00,1715.40 M156.00,1722.00 L162.28,1719.96 M156.00,1722.00 L159.88,1727.34 M156.00,1722.00 L152.12,1727.34 M156.00,1722.00 L149.72,1719.96" fill="none" stroke="#505050" stroke-width="2.6" stroke-linecap="butt"/>
<text x="177.70" y="992.50" font-size="17.8" fill="#111" textLength="267.7" lengthAdjust="spacingAndGlyphs">Previously characterized isoforms</text>
<text x="178.50" y="1014.00" font-size="17.5" fill="#111">CCR9, CNR1, CX3C1, CXCR3, CXCR4,</text>
<text x="177.70" y="1029.50" font-size="17.5" fill="#111" textLength="221.2" lengthAdjust="spacingAndGlyphs">FSHR,GP132, LSHR, PACR</text>
<text x="177.70" y="1057.50" font-size="17.8" fill="#999" textLength="203.7" lengthAdjust="spacingAndGlyphs">Uncharacterized isoforms</text>
<text x="178.50" y="1080.00" font-size="17.5" fill="#8a8a8a">ACKR1, AGRA2, AGRB3, AGRD1, AGRE1,</text>
<text x="178.50" y="1095.70" font-size="17.5" fill="#8a8a8a">AGRE2, AGRE3, AGRF5, AGRG1, AGRG2,</text>
<text x="178.50" y="1111.40" font-size="17.5" fill="#8a8a8a">AGRG4, AGRG6, AGRL1, AGRL2, BKRB2,</text>
<text x="178.50" y="1127.10" font-size="17.5" fill="#8a8a8a">CASR, CCR3, CCR7, CCRL2, CD97,</text>
<text x="178.50" y="1142.80" font-size="17.5" fill="#8a8a8a">CELR3, CML1, CRFR1, GABR1, GIPR,</text>
<text x="178.50" y="1158.50" font-size="17.5" fill="#8a8a8a">GP143, GP161, GPR35, GPR6, GPR98,</text>
<text x="178.50" y="1174.20" font-size="17.5" fill="#8a8a8a">LGR4, LGR5, LPAR1, MRGRE, NPFF2,</text>
<text x="178.50" y="1189.90" font-size="17.5" fill="#8a8a8a">OGR1, RXFP2, TS1R1, VIPR2</text>
<text x="178.50" y="1220.00" font-size="17.5" fill="#111">5HT4R, 5HT7R, GRM1, TA2R, OPRM</text>
<text x="178.50" y="1242.50" font-size="17.5" fill="#8a8a8a">AA2AR, ADA1A, AGRB2, AGRG2, AGRG6,</text>
<text x="178.50" y="1258.00" font-size="17.5" fill="#8a8a8a">AGRL2, GP146, GPC5B, GPC5D, GRM5,</text>
<text x="178.50" y="1273.50" font-size="17.5" fill="#8a8a8a">GRM7, GRM8, HRH2, HRH3, MSHR,</text>
<text x="178.50" y="1289.00" font-size="17.5" fill="#8a8a8a">OGR1, OPN5, PTH1R, SSR2</text>
<text x="178.50" y="1316.50" font-size="17.5" fill="#111">5HT2C</text>
<text x="178.50" y="1337.50" font-size="17.5" fill="#8a8a8a">AA2AR, ACKR2, ACTHR, CCR2, CXCR2,</text>
<text x="178.50" y="1353.00" font-size="17.5" fill="#8a8a8a">FPR2, GP141, GP160, GPR1, GPR17,</text>
<text x="178.50" y="1368.50" font-size="17.5" fill="#8a8a8a">GPR18, GPR85, P2RY6, P2Y14, TA2R</text>
<text x="178.50" y="1399.00" font-size="17.5" fill="#111">GNRH</text>
<text x="178.50" y="1419.00" font-size="17.5" fill="#8a8a8a">ACKR2, C3AR, CXCR2, FPR2, GNRHR,</text>
<text x="178.50" y="1434.50" font-size="17.5" fill="#8a8a8a">GP160, GPC5B, KISSR, LPAR1, MC5R,</text>
<text x="178.50" y="1450.00" font-size="17.5" fill="#8a8a8a">TPRA1</text>
<text x="178.50" y="1481.00" font-size="17.5" fill="#111">CCR2, EDNRB, NK1R, PE2R3</text>
<text x="178.50" y="1500.00" font-size="17.5" fill="#8a8a8a">GIPR, OX1R, RAI3, TA2R</text>
<text x="178.50" y="1528.50" font-size="17.5" fill="#111">ADA1A, GHSR</text>
<text x="178.50" y="1548.50" font-size="17.5" fill="#8a8a8a">MTLR, P2RY6, PD2R, PF2R, V2R</text>
<text x="178.50" y="1578.50" font-size="17.5" fill="#111">DRD2, GASR</text>
<text x="178.5" y="1610" font-size="17.5" fill="#111">OPRM,<tspan dx="2.6" fill="#8a8a8a">OPRK</tspan></text>
<text x="178.5" y="1639" font-size="17.5" fill="#111">CRFR1,<tspan dx="0.5" fill="#8a8a8a">OPN4</tspan></text>
<text x="178.5" y="1670" font-size="17.5" fill="#111">PACR,<tspan dx="2.6" fill="#8a8a8a">AGRL2</tspan></text>
<text x="178.5" y="1697" font-size="17.5" fill="#111">V2R,<tspan dx="2.6" fill="#8a8a8a">MRGX3</tspan></text>
<text x="178.5" y="1728" font-size="17.5" fill="#111">EDNRA,<tspan dx="2.6" fill="#8a8a8a">MCHR1</tspan></text>
<path d="M621.8,980 C680.5,980 758.8,973 817.5,973 L817.5,1413.5 C758.8,1413.5 680.5,1420.7 621.8,1420.7 Z" fill="#a0d2c8" fill-opacity="0.55"/>
<path d="M621.8,1420.7 C680.5,1420.7 758.8,1435.8 817.5,1435.8 L817.5,1461.7 C758.8,1461.7 680.5,1448.3 621.8,1448.3 Z" fill="#a0d2c8" fill-opacity="0.55"/>
<path d="M621.8,1448.3 C680.5,1448.3 758.8,1687.7 817.5,1687.7 L817.5,1695 C758.8,1695 680.5,1455 621.8,1455 Z" fill="#94ccc1" fill-opacity="0.55"/>
<path d="M621.8,1455 C680.5,1455 758.8,1413.5 817.5,1413.5 L817.5,1420.5 C758.8,1420.5 680.5,1462 621.8,1462 Z" fill="#23a08e" fill-opacity="0.55"/>
<path d="M621.8,1462 C680.5,1462 758.8,1461.7 817.5,1461.7 L817.5,1489.6 C758.8,1489.6 680.5,1489.9 621.8,1489.9 Z" fill="#23a08e" fill-opacity="0.55"/>
<path d="M621.8,1489.9 C680.5,1489.9 758.8,1635 817.5,1635 L817.5,1660.8 C758.8,1660.8 680.5,1515.7 621.8,1515.7 Z" fill="#23a08e" fill-opacity="0.55"/>
<path d="M621.8,1515.7 C680.5,1515.7 758.8,1668.8 817.5,1668.8 L817.5,1674.7 C758.8,1674.7 680.5,1521.6 621.8,1521.6 Z" fill="#23a08e" fill-opacity="0.55"/>
<path d="M621.8,1523.4 C680.5,1523.4 758.8,1695 817.5,1695 L817.5,1701.6 C758.8,1701.6 680.5,1530.5 621.8,1530.5 Z" fill="#e4d52a" fill-opacity="0.55"/>
<path d="M621.8,1530.5 C680.5,1530.5 758.8,1701.6 817.5,1701.6 L817.5,1708.6 C758.8,1708.6 680.5,1537.6 621.8,1537.6 Z" fill="#d2d211" fill-opacity="0.55"/>
<path d="M621.8,1537.6 C680.5,1537.6 758.8,1489.6 817.5,1489.6 L817.5,1600 C758.8,1600 680.5,1646 621.8,1646 Z" fill="#fbc77e" fill-opacity="0.55"/>
<path d="M621.8,1646 C680.5,1646 758.8,1674.7 817.5,1674.7 L817.5,1680.5 C758.8,1680.5 680.5,1652.5 621.8,1652.5 Z" fill="#fabf77" fill-opacity="0.55"/>
<path d="M621.8,1653.5 C680.5,1653.5 758.8,1708.6 817.5,1708.6 L817.5,1736.5 C758.8,1736.5 680.5,1681.3 621.8,1681.3 Z" fill="#f28c2a" fill-opacity="0.55"/>
<path d="M621.8,1681.3 C680.5,1681.3 758.8,1600 817.5,1600 L817.5,1627 C758.8,1627 680.5,1709.3 621.8,1709.3 Z" fill="#f4ad9b" fill-opacity="0.55"/>
<path d="M621.8,1709.3 C680.5,1709.3 758.8,1420.5 817.5,1420.5 L817.5,1427.3 C758.8,1427.3 680.5,1716.4 621.8,1716.4 Z" fill="#e74f2e" fill-opacity="0.55"/>
<path d="M621.8,1716.4 C680.5,1716.4 758.8,1660.8 817.5,1660.8 L817.5,1666.8 C758.8,1666.8 680.5,1722.8 621.8,1722.8 Z" fill="#cebce4" fill-opacity="0.55"/>
<path d="M621.8,1722.8 C680.5,1722.8 758.8,1627 817.5,1627 L817.5,1633 C758.8,1633 680.5,1729.6 621.8,1729.6 Z" fill="#6f4bb4" fill-opacity="0.55"/>
<path d="M621.8,1729.6 C680.5,1729.6 758.8,1736.5 817.5,1736.5 L817.5,1742.4 C758.8,1742.4 680.5,1736.2 621.8,1736.2 Z" fill="#a4a4a4" fill-opacity="0.55"/>
<path d="M621.8,1736.2 C680.5,1736.2 758.8,1427.3 817.5,1427.3 L817.5,1433.8 C758.8,1433.8 680.5,1743 621.8,1743 Z" fill="#6e6e6e" fill-opacity="0.55"/>
<rect x="523.30" y="980.00" width="98.50" height="475.00" fill="#cde7e2"/>
<rect x="523.30" y="1455.00" width="98.50" height="68.40" fill="#90cfc5"/>
<rect x="523.30" y="1523.40" width="98.50" height="7.10" fill="#f2ea8a"/>
<rect x="523.30" y="1530.50" width="98.50" height="7.10" fill="#eceb88"/>
<rect x="523.30" y="1537.60" width="98.50" height="115.90" fill="#fde1c0"/>
<rect x="523.30" y="1653.50" width="98.50" height="27.80" fill="#f8c48c"/>
<rect x="523.30" y="1681.30" width="98.50" height="28.00" fill="#fad2c8"/>
<rect x="523.30" y="1709.30" width="98.50" height="7.10" fill="#f4a89a"/>
<rect x="523.30" y="1716.40" width="98.50" height="6.40" fill="#e8ddf0"/>
<rect x="523.30" y="1722.80" width="98.50" height="6.80" fill="#b8a2d8"/>
<rect x="523.30" y="1729.60" width="98.50" height="6.60" fill="#d2d2d2"/>
<rect x="523.30" y="1736.20" width="98.50" height="7.80" fill="#bebebe"/>
<rect x="817.50" y="973.00" width="99.10" height="440.50" fill="#cde7e2"/>
<rect x="817.50" y="1413.50" width="99.10" height="7.00" fill="#90cfc5"/>
<rect x="817.50" y="1420.50" width="99.10" height="6.80" fill="#f4a89a"/>
<rect x="817.50" y="1427.30" width="99.10" height="7.50" fill="#bbbbbb"/>
<rect x="817.50" y="1434.80" width="99.10" height="26.90" fill="#cde7e2"/>
<rect x="817.50" y="1461.70" width="99.10" height="27.90" fill="#90cfc5"/>
<rect x="817.50" y="1489.60" width="99.10" height="110.40" fill="#fde1c0"/>
<rect x="817.50" y="1600.00" width="99.10" height="27.00" fill="#fad2c8"/>
<rect x="817.50" y="1627.00" width="99.10" height="6.90" fill="#b8a2d8"/>
<rect x="817.50" y="1633.90" width="99.10" height="26.90" fill="#90cfc5"/>
<rect x="817.50" y="1660.80" width="99.10" height="7.00" fill="#e8ddf0"/>
<rect x="817.50" y="1667.80" width="99.10" height="6.90" fill="#90cfc5"/>
<rect x="817.50" y="1674.70" width="99.10" height="6.30" fill="#fde1c0"/>
<rect x="817.50" y="1681.00" width="99.10" height="6.70" fill="#ffffff"/>
<rect x="817.50" y="1687.70" width="99.10" height="7.30" fill="#cde7e2"/>
<rect x="817.50" y="1695.00" width="99.10" height="6.60" fill="#f2ea8a"/>
<rect x="817.50" y="1701.60" width="99.10" height="7.00" fill="#e6e680"/>
<rect x="817.50" y="1708.60" width="99.10" height="27.90" fill="#f8c48c"/>
<rect x="817.50" y="1736.50" width="99.10" height="6.90" fill="#cfcfcf"/>
<rect x="523.3" y="980" width="98.50" height="475.00" fill="none" stroke="#555" stroke-width="2"/>
<rect x="523.3" y="1455" width="98.50" height="68.40" fill="none" stroke="#555" stroke-width="2"/>
<rect x="523.3" y="1523.4" width="98.50" height="7.10" fill="none" stroke="#555" stroke-width="2"/>
<rect x="523.3" y="1530.5" width="98.50" height="7.10" fill="none" stroke="#555" stroke-width="2"/>
<rect x="523.3" y="1537.6" width="98.50" height="115.90" fill="none" stroke="#555" stroke-width="2"/>
<rect x="523.3" y="1653.5" width="98.50" height="27.80" fill="none" stroke="#555" stroke-width="2"/>
<rect x="523.3" y="1681.3" width="98.50" height="28.00" fill="none" stroke="#555" stroke-width="2"/>
<rect x="523.3" y="1709.3" width="98.50" height="7.10" fill="none" stroke="#555" stroke-width="2"/>
<rect x="523.3" y="1716.4" width="98.50" height="6.40" fill="none" stroke="#555" stroke-width="2"/>
<rect x="523.3" y="1722.8" width="98.50" height="6.80" fill="none" stroke="#555" stroke-width="2"/>
<rect x="523.3" y="1729.6" width="98.50" height="6.60" fill="none" stroke="#555" stroke-width="2"/>
<rect x="523.3" y="1736.2" width="98.50" height="7.80" fill="none" stroke="#555" stroke-width="2"/>
<rect x="817.5" y="973" width="99.10" height="461.80" fill="none" stroke="#555" stroke-width="2"/>
<rect x="817.5" y="1434.8" width="99.10" height="199.10" fill="none" stroke="#555" stroke-width="2"/>
<rect x="817.5" y="1633.9" width="99.10" height="33.90" fill="none" stroke="#555" stroke-width="2"/>
<rect x="817.5" y="1667.8" width="99.10" height="13.20" fill="none" stroke="#555" stroke-width="2"/>
<rect x="817.5" y="1681" width="99.10" height="62.80" fill="none" stroke="#555" stroke-width="2"/>
<text x="544.50" y="1217.20" font-size="18.8" fill="#000" textLength="57.6" lengthAdjust="spacingAndGlyphs">N term</text>
<text x="544.50" y="1496.90" font-size="18.8" fill="#000" textLength="57.6" lengthAdjust="spacingAndGlyphs">C term</text>
<text x="572.50" y="1590.00" font-size="18.8" fill="#000" text-anchor="middle">H8</text>
<text x="533.20" y="1612.80" font-size="18.8" fill="#000" textLength="80.7" lengthAdjust="spacingAndGlyphs">to C term</text>
<text x="553.30" y="1701.50" font-size="18.8" fill="#000" textLength="39.5" lengthAdjust="spacingAndGlyphs">ICL3</text>
<rect x="930.50" y="982.00" width="1.50" height="444.00" fill="#555"/>
<rect x="930.50" y="1445.75" width="1.50" height="178.25" fill="#555"/>
<rect x="930.50" y="1640.75" width="1.50" height="20.25" fill="#555"/>
<rect x="930.50" y="1667.50" width="1.50" height="13.50" fill="#555"/>
<rect x="930.50" y="1693.00" width="1.50" height="42.75" fill="#555"/>
<rect x="1169.70" y="970.00" width="30.30" height="778.00" fill="#e4e4e4"/>
<rect x="1030.50" y="1190.00" width="139.20" height="7.00" fill="#e4e4e4"/>
<rect x="1018.75" y="1512.00" width="150.95" height="7.00" fill="#e4e4e4"/>
<rect x="1136.00" y="1644.50" width="33.70" height="7.00" fill="#e4e4e4"/>
<rect x="1036.00" y="1667.00" width="133.70" height="7.00" fill="#e4e4e4"/>
<rect x="1154.50" y="1709.50" width="15.20" height="7.00" fill="#e4e4e4"/>
<text transform="translate(1178.00,1250.00) rotate(90)" font-size="25" fill="#000" textLength="246.2" lengthAdjust="spacingAndGlyphs">Cell signalling changes</text>
<text x="939.50" y="1200.50" font-size="18.3" fill="#000" textLength="60.7" lengthAdjust="spacingAndGlyphs">Altered</text>
<text x="939.50" y="1219.50" font-size="18.3" fill="#000" textLength="119.2" lengthAdjust="spacingAndGlyphs">ligand binding</text>
<text x="939.50" y="1238.75" font-size="18.3" fill="#000" textLength="88.7" lengthAdjust="spacingAndGlyphs">or efficacy</text>
<text x="939.50" y="1522.00" font-size="18.3" fill="#000" textLength="60.7" lengthAdjust="spacingAndGlyphs">Altered</text>
<text x="939.50" y="1544.50" font-size="18.3" fill="#000" textLength="149.2" lengthAdjust="spacingAndGlyphs">receptor coupling</text>
<text x="939.50" y="1654.50" font-size="18.3" fill="#000" textLength="183.2" lengthAdjust="spacingAndGlyphs">Altered internalization</text>
<text x="939.50" y="1676.00" font-size="18.3" fill="#000" textLength="60.7" lengthAdjust="spacingAndGlyphs">Altered</text>
<text x="939.50" y="1692.50" font-size="18.3" fill="#000" textLength="180.4" lengthAdjust="spacingAndGlyphs">membrane trafficking</text>
<text x="939.50" y="1713.75" font-size="18.3" fill="#000" textLength="208.7" lengthAdjust="spacingAndGlyphs">Intracellular retention of</text>
<text x="939.50" y="1731.00" font-size="18.3" fill="#000" textLength="181.2" lengthAdjust="spacingAndGlyphs">the reference isoform</text>
</svg>
</body></html>
